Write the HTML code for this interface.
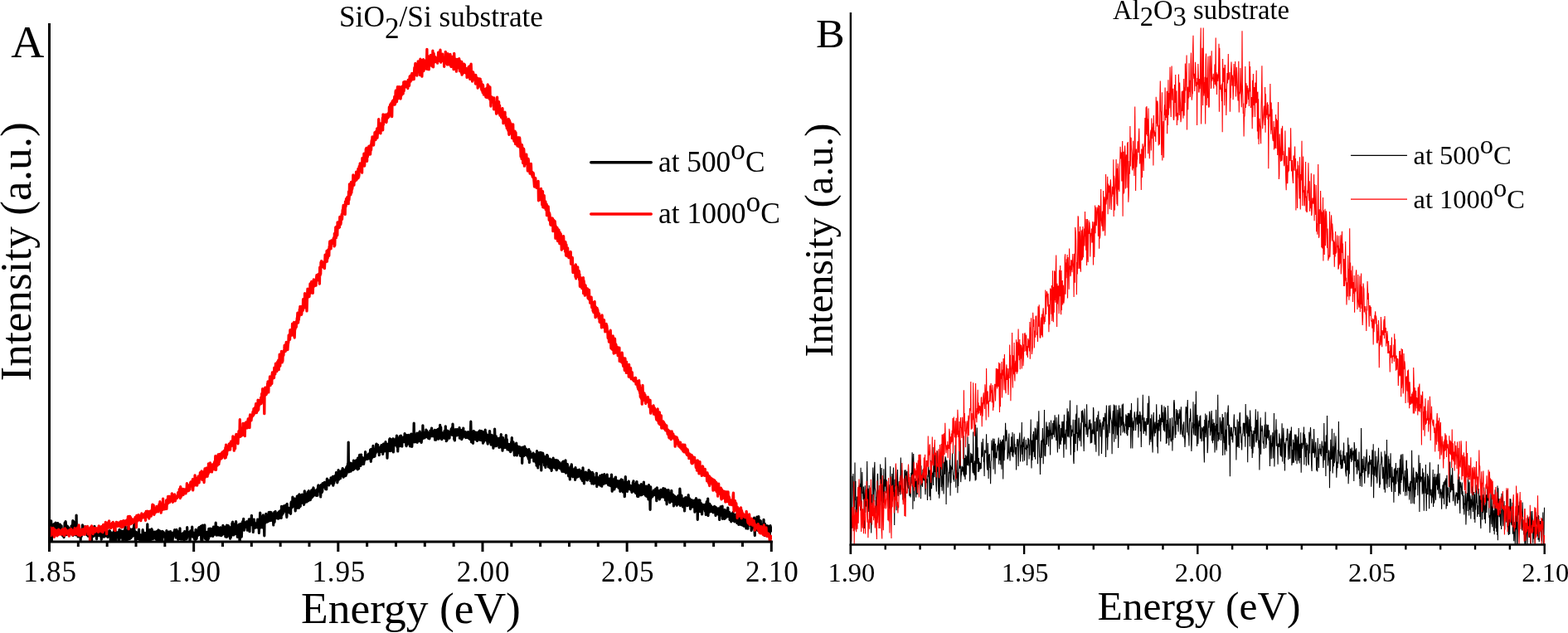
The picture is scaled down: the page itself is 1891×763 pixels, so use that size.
<!DOCTYPE html>
<html><head><meta charset="utf-8"><title>PL spectra</title>
<style>html,body{margin:0;padding:0;background:#fff;width:1891px;height:763px;overflow:hidden}</style>
</head><body>
<svg width="1891" height="763" viewBox="0 0 1891 763" style="position:absolute;left:0;top:0">
<defs>
<clipPath id="cl"><rect x="60" y="0" width="871" height="652"/></clipPath>
<clipPath id="cr"><rect x="1026" y="0" width="837" height="656.5"/></clipPath>
</defs>
<rect width="1891" height="763" fill="#fff"/>
<g font-family="'Liberation Serif','Times New Roman',serif" fill="#000">
<!-- LEFT -->
<polyline points="60,628.5 60.3,629.4 60.7,629.0 61,632.0 61.3,640.9 61.7,627.9 62,638.9 62.3,655.0 62.7,633.4 63,632.0 63.3,637.1 63.7,640.4 64,644.5 64.4,637.7 64.7,642.2 65,633.4 65.4,631.7 65.7,634.0 66,634.6 66.4,634.1 66.7,636.5 67,630.1 67.4,639.3 67.7,635.4 68,633.1 68.4,632.7 68.7,644.7 69,633.2 69.4,632.3 69.7,630.6 70,644.2 70.4,633.8 70.7,641.5 71,642.5 71.4,633.0 71.7,642.3 72.1,635.7 72.4,632.0 72.7,634.4 73.1,639.2 73.4,638.4 73.7,638.7 74.1,633.8 74.4,642.5 74.7,643.5 75.1,645.0 75.4,641.4 75.7,645.3 76.1,646.2 76.4,640.3 76.7,641.1 77.1,647.6 77.4,639.8 77.7,641.2 78.1,630.2 78.4,636.2 78.7,639.7 79.1,628.6 79.4,631.5 79.7,644.6 80.1,633.3 80.4,635.9 80.8,639.5 81.1,635.9 81.4,634.3 81.8,640.3 82.1,636.3 82.4,635.7 82.8,639.0 83.1,645.2 83.4,639.9 83.8,645.4 84.1,641.6 84.4,642.1 84.8,641.0 85.1,637.3 85.4,640.4 85.8,640.0 86.1,633.9 86.4,642.0 86.8,641.3 87.1,640.4 87.4,636.5 87.8,627.6 88.1,645.3 88.5,638.7 88.8,628.5 89.1,641.9 89.5,636.1 89.8,642.2 90.1,638.8 90.5,644.2 90.8,640.3 91.1,641.3 91.5,644.8 91.8,644.8 92.1,621.0 92.5,644.6 92.8,642.6 93.1,637.2 93.5,639.7 93.8,637.8 94.1,647.0 94.5,643.8 94.8,638.2 95.1,643.1 95.5,644.0 95.8,642.7 96.2,646.7 96.5,639.7 96.8,643.1 97.2,650.8 97.5,640.3 97.8,639.6 98.2,646.5 98.5,642.8 98.8,637.7 99.2,639.3 99.5,632.9 99.8,635.9 100.2,636.1 100.5,635.5 100.8,638.6 101.2,643.6 101.5,639.0 101.8,635.0 102.2,641.7 102.5,641.5 102.8,634.8 103.2,641.5 103.5,636.2 103.9,638.2 104.2,637.8 104.5,644.5 104.9,637.4 105.2,639.7 105.5,641.9 105.9,645.5 106.2,646.2 106.5,636.8 106.9,646.3 107.2,642.5 107.5,646.4 107.9,645.8 108.2,639.1 108.5,641.5 108.9,640.2 109.2,643.1 109.5,648.6 109.9,641.8 110.2,638.7 110.5,652.5 110.9,637.3 111.2,641.7 111.6,641.6 111.9,636.3 112.2,645.2 112.6,646.4 112.9,641.5 113.2,642.1 113.6,641.2 113.9,634.3 114.2,643.0 114.6,636.6 114.9,637.9 115.2,643.7 115.6,646.0 115.9,638.4 116.2,647.0 116.6,649.8 116.9,642.9 117.2,641.9 117.6,643.1 117.9,640.6 118.2,638.6 118.6,645.1 118.9,645.5 119.2,640.3 119.6,640.7 119.9,639.8 120.3,639.5 120.6,638.4 120.9,636.1 121.3,646.5 121.6,641.1 121.9,642.9 122.3,650.3 122.6,640.6 122.9,645.2 123.3,636.9 123.6,640.1 123.9,645.8 124.3,641.7 124.6,636.7 124.9,636.3 125.3,647.2 125.6,638.9 125.9,645.8 126.3,644.1 126.6,641.6 126.9,642.7 127.3,646.2 127.6,643.2 128,639.0 128.3,644.5 128.6,641.6 129,642.1 129.3,645.6 129.6,644.6 130,647.5 130.3,642.4 130.6,641.3 131,641.8 131.3,644.9 131.6,639.9 132,641.8 132.3,639.8 132.6,640.1 133,642.7 133.3,653.6 133.6,641.8 134,644.6 134.3,643.9 134.6,642.8 135,643.7 135.3,651.8 135.7,642.5 136,650.4 136.3,646.4 136.7,646.0 137,641.0 137.3,641.8 137.7,639.2 138,648.6 138.3,645.5 138.7,663.0 139,639.5 139.3,645.8 139.7,641.6 140,654.1 140.3,643.5 140.7,645.1 141,645.7 141.3,642.0 141.7,642.3 142,642.3 142.3,647.6 142.7,641.0 143,643.4 143.4,645.4 143.7,653.7 144,638.4 144.4,639.1 144.7,642.4 145,640.1 145.4,648.2 145.7,644.2 146,644.1 146.4,640.0 146.7,646.4 147,642.7 147.4,640.3 147.7,641.6 148,654.2 148.4,641.7 148.7,640.7 149,649.1 149.4,647.4 149.7,643.1 150,650.1 150.4,638.2 150.7,642.4 151.1,634.6 151.4,650.1 151.7,644.6 152.1,655.2 152.4,646.3 152.7,646.4 153.1,639.7 153.4,639.5 153.7,642.4 154.1,648.2 154.4,650.2 154.7,634.5 155.1,648.0 155.4,648.2 155.7,640.6 156.1,646.2 156.4,649.1 156.7,649.3 157.1,637.8 157.4,644.6 157.7,641.1 158.1,648.4 158.4,644.8 158.7,639.3 159.1,644.8 159.4,646.8 159.8,637.9 160.1,638.7 160.4,641.5 160.8,642.7 161.1,642.0 161.4,636.7 161.8,631.3 162.1,644.2 162.4,646.1 162.8,640.6 163.1,645.1 163.4,652.3 163.8,643.5 164.1,642.6 164.4,641.5 164.8,646.5 165.1,649.8 165.4,645.6 165.8,643.0 166.1,646.3 166.4,646.4 166.8,644.1 167.1,649.5 167.5,638.2 167.8,647.7 168.1,644.2 168.5,648.3 168.8,652.8 169.1,645.0 169.5,654.4 169.8,644.8 170.1,650.7 170.5,651.4 170.8,645.6 171.1,647.7 171.5,655.3 171.8,647.3 172.1,638.7 172.5,641.6 172.8,643.0 173.1,646.7 173.5,642.7 173.8,651.0 174.1,643.1 174.5,651.8 174.8,642.4 175.2,650.9 175.5,646.0 175.8,651.2 176.2,653.5 176.5,652.7 176.8,649.7 177.2,642.2 177.5,641.9 177.8,631.9 178.2,651.6 178.5,650.7 178.8,649.7 179.2,640.6 179.5,657.1 179.8,642.6 180.2,649.2 180.5,638.6 180.8,642.9 181.2,650.7 181.5,649.9 181.8,640.9 182.2,645.2 182.5,650.3 182.9,637.7 183.2,648.8 183.5,638.9 183.9,648.2 184.2,644.4 184.5,649.7 184.9,643.3 185.2,644.0 185.5,644.0 185.9,641.4 186.2,644.2 186.5,641.1 186.9,643.0 187.2,648.3 187.5,644.0 187.9,649.9 188.2,648.4 188.5,648.9 188.9,640.5 189.2,647.1 189.5,652.1 189.9,649.2 190.2,650.6 190.6,651.9 190.9,638.9 191.2,647.8 191.6,646.7 191.9,644.5 192.2,639.8 192.6,639.8 192.9,644.7 193.2,653.7 193.6,651.0 193.9,643.6 194.2,640.9 194.6,641.7 194.9,645.1 195.2,642.3 195.6,653.8 195.9,640.3 196.2,645.0 196.6,646.0 196.9,647.2 197.2,641.4 197.6,644.4 197.9,646.2 198.2,646.8 198.6,642.9 198.9,644.1 199.3,646.4 199.6,653.6 199.9,644.6 200.3,648.4 200.6,652.2 200.9,639.5 201.3,651.7 201.6,660.6 201.9,645.8 202.3,649.6 202.6,655.1 202.9,644.9 203.3,646.6 203.6,641.0 203.9,642.7 204.3,645.9 204.6,645.2 204.9,652.5 205.3,650.2 205.6,640.5 205.9,649.4 206.3,644.8 206.6,654.6 207,645.1 207.3,642.3 207.6,642.9 208,652.2 208.3,649.0 208.6,646.1 209,645.2 209.3,644.2 209.6,641.7 210,643.6 210.3,645.4 210.6,638.6 211,639.4 211.3,640.7 211.6,643.6 212,648.1 212.3,639.7 212.6,640.5 213,638.5 213.3,643.4 213.6,640.2 214,641.0 214.3,640.5 214.7,650.3 215,644.8 215.3,642.4 215.7,643.2 216,648.9 216.3,649.3 216.7,646.3 217,636.8 217.3,649.3 217.7,649.7 218,648.4 218.3,647.1 218.7,645.4 219,650.2 219.3,643.8 219.7,649.6 220,643.1 220.3,643.5 220.7,643.2 221,642.7 221.3,643.0 221.7,648.3 222,651.7 222.4,642.0 222.7,640.6 223,650.3 223.4,643.6 223.7,646.2 224,645.6 224.4,648.8 224.7,641.2 225,649.8 225.4,648.3 225.7,635.5 226,644.2 226.4,643.2 226.7,646.5 227,644.6 227.4,641.6 227.7,643.3 228,646.3 228.4,644.9 228.7,644.1 229,654.2 229.4,647.0 229.7,639.9 230.1,645.2 230.4,646.1 230.7,640.4 231.1,645.1 231.4,641.0 231.7,635.1 232.1,646.1 232.4,647.2 232.7,647.2 233.1,643.9 233.4,642.0 233.7,645.5 234.1,646.3 234.4,648.4 234.7,650.2 235.1,647.9 235.4,642.0 235.7,650.6 236.1,638.4 236.4,647.4 236.7,646.8 237.1,649.4 237.4,646.4 237.7,646.1 238.1,641.3 238.4,645.7 238.8,643.2 239.1,643.3 239.4,636.7 239.8,641.0 240.1,635.7 240.4,642.7 240.8,641.1 241.1,644.6 241.4,636.2 241.8,641.7 242.1,642.8 242.4,634.0 242.8,650.8 243.1,645.8 243.4,640.5 243.8,651.7 244.1,649.4 244.4,633.1 244.8,642.3 245.1,640.9 245.4,643.7 245.8,639.4 246.1,642.3 246.5,643.8 246.8,632.8 247.1,643.9 247.5,649.3 247.8,643.8 248.1,648.2 248.5,650.0 248.8,644.5 249.1,644.9 249.5,645.0 249.8,641.4 250.1,661.2 250.5,645.1 250.8,645.5 251.1,647.2 251.5,649.4 251.8,637.3 252.1,638.7 252.5,643.6 252.8,645.2 253.1,637.8 253.5,637.1 253.8,646.2 254.2,645.9 254.5,637.6 254.8,641.5 255.2,640.0 255.5,637.6 255.8,638.8 256.2,640.9 256.5,641.6 256.8,646.5 257.2,636.7 257.5,635.0 257.8,644.6 258.2,638.1 258.5,640.8 258.8,642.2 259.2,636.6 259.5,635.4 259.8,639.0 260.2,630.2 260.5,644.4 260.8,634.1 261.2,645.1 261.5,642.9 261.9,642.5 262.2,643.6 262.5,642.0 262.9,635.5 263.2,644.9 263.5,639.3 263.9,643.3 264.2,640.7 264.5,640.1 264.9,645.1 265.2,645.1 265.5,642.1 265.9,635.9 266.2,637.0 266.5,636.6 266.9,645.7 267.2,643.0 267.5,641.2 267.9,640.2 268.2,637.7 268.5,644.3 268.9,633.3 269.2,637.1 269.5,640.4 269.9,643.3 270.2,640.3 270.6,635.2 270.9,635.1 271.2,644.1 271.6,642.1 271.9,646.8 272.2,638.4 272.6,640.0 272.9,636.3 273.2,647.3 273.6,633.0 273.9,642.8 274.2,647.0 274.6,636.9 274.9,633.8 275.2,635.6 275.6,633.7 275.9,641.2 276.2,637.3 276.6,635.7 276.9,638.3 277.2,640.1 277.6,649.2 277.9,637.7 278.3,647.6 278.6,635.4 278.9,637.2 279.3,645.4 279.6,639.2 279.9,630.7 280.3,635.1 280.6,629.1 280.9,635.9 281.3,638.3 281.6,631.4 281.9,645.0 282.3,643.7 282.6,641.7 282.9,635.0 283.3,638.2 283.6,640.4 283.9,642.1 284.3,643.4 284.6,628.5 284.9,634.7 285.3,632.7 285.6,636.1 286,638.4 286.3,647.3 286.6,636.9 287,643.9 287.3,637.6 287.6,636.9 288,641.3 288.3,632.1 288.6,639.8 289,652.7 289.3,651.4 289.6,634.4 290,632.5 290.3,631.3 290.6,634.6 291,636.3 291.3,647.1 291.6,641.0 292,634.6 292.3,637.3 292.6,628.7 293,632.9 293.3,635.0 293.7,625.3 294,636.0 294.3,639.2 294.7,635.6 295,636.1 295.3,635.1 295.7,629.8 296,635.1 296.3,635.2 296.7,635.1 297,634.9 297.3,635.0 297.7,628.7 298,634.1 298.3,639.1 298.7,638.2 299,633.0 299.3,630.8 299.7,638.1 300,633.7 300.3,625.9 300.7,631.6 301,640.6 301.4,626.0 301.7,633.4 302,629.8 302.4,632.6 302.7,631.0 303,628.9 303.4,621.4 303.7,631.5 304,632.5 304.4,631.6 304.7,627.5 305,629.3 305.4,641.4 305.7,626.9 306,630.2 306.4,626.1 306.7,630.4 307,632.4 307.4,636.4 307.7,632.0 308,631.0 308.4,632.4 308.7,633.2 309,630.5 309.4,630.5 309.7,635.7 310.1,631.5 310.4,629.8 310.7,626.1 311.1,627.7 311.4,636.3 311.7,626.7 312.1,631.8 312.4,642.4 312.7,631.6 313.1,628.5 313.4,625.7 313.7,618.0 314.1,624.7 314.4,624.7 314.7,635.8 315.1,631.4 315.4,622.7 315.7,630.8 316.1,625.3 316.4,635.8 316.7,634.2 317.1,630.6 317.4,620.9 317.8,635.1 318.1,631.2 318.4,632.3 318.8,645.8 319.1,626.0 319.4,630.4 319.8,623.3 320.1,630.2 320.4,627.5 320.8,619.4 321.1,628.5 321.4,626.0 321.8,624.4 322.1,625.6 322.4,629.2 322.8,620.7 323.1,620.9 323.4,628.5 323.8,626.0 324.1,617.6 324.4,625.4 324.8,617.4 325.1,627.6 325.5,625.6 325.8,626.3 326.1,617.4 326.5,620.5 326.8,627.4 327.1,617.5 327.5,625.6 327.8,622.2 328.1,623.6 328.5,619.3 328.8,625.3 329.1,624.2 329.5,626.1 329.8,632.9 330.1,621.2 330.5,622.3 330.8,617.3 331.1,629.2 331.5,620.0 331.8,624.7 332.1,616.3 332.5,620.0 332.8,623.6 333.2,622.9 333.5,619.5 333.8,624.4 334.2,620.9 334.5,624.8 334.8,619.1 335.2,622.8 335.5,617.8 335.8,625.2 336.2,617.0 336.5,619.6 336.8,616.7 337.2,623.4 337.5,619.5 337.8,621.8 338.2,624.2 338.5,615.0 338.8,622.4 339.2,624.4 339.5,610.4 339.8,621.5 340.2,619.8 340.5,618.1 340.9,618.6 341.2,611.6 341.5,618.8 341.9,617.4 342.2,609.9 342.5,615.2 342.9,610.7 343.2,616.1 343.5,611.7 343.9,615.8 344.2,609.0 344.5,612.6 344.9,612.9 345.2,613.6 345.5,619.2 345.9,623.5 346.2,607.4 346.5,617.4 346.9,612.4 347.2,612.1 347.5,611.9 347.9,612.4 348.2,612.4 348.5,616.2 348.9,617.9 349.2,613.8 349.6,612.3 349.9,614.4 350.2,613.5 350.6,619.3 350.9,607.3 351.2,605.2 351.6,609.8 351.9,612.0 352.2,609.5 352.6,611.2 352.9,599.0 353.2,606.5 353.6,606.7 353.9,603.6 354.2,606.5 354.6,607.8 354.9,610.2 355.2,604.4 355.6,601.1 355.9,610.9 356.2,615.9 356.6,608.1 356.9,607.8 357.3,602.9 357.6,607.7 357.9,612.5 358.3,598.1 358.6,610.5 358.9,597.8 359.3,612.2 359.6,609.2 359.9,604.2 360.3,606.5 360.6,612.1 360.9,595.9 361.3,609.7 361.6,607.0 361.9,604.4 362.3,610.3 362.6,597.0 362.9,603.2 363.3,598.5 363.6,606.5 363.9,605.4 364.3,596.1 364.6,603.9 365,603.7 365.3,604.1 365.6,601.7 366,606.5 366.3,603.0 366.6,608.3 367,596.8 367.3,591.8 367.6,605.8 368,594.9 368.3,605.5 368.6,600.1 369,602.8 369.3,598.3 369.6,603.9 370,604.9 370.3,604.2 370.6,601.0 371,593.1 371.3,602.6 371.6,598.7 372,603.6 372.3,591.5 372.7,599.5 373,595.6 373.3,597.1 373.7,600.7 374,600.3 374.3,602.6 374.7,598.3 375,598.5 375.3,597.3 375.7,590.9 376,600.0 376.3,591.8 376.7,592.9 377,596.7 377.3,598.5 377.7,589.1 378,588.0 378.3,590.2 378.7,597.2 379,590.8 379.3,595.4 379.7,591.8 380,592.1 380.4,592.9 380.7,596.5 381,596.6 381.4,597.3 381.7,590.6 382,595.1 382.4,590.0 382.7,590.2 383,597.3 383.4,588.5 383.7,585.7 384,584.9 384.4,592.1 384.7,590.6 385,592.1 385.4,586.0 385.7,589.9 386,588.9 386.4,586.7 386.7,598.9 387,585.1 387.4,584.5 387.7,588.3 388,594.0 388.4,585.8 388.7,592.7 389.1,582.7 389.4,585.1 389.7,585.7 390.1,585.2 390.4,586.3 390.7,585.4 391.1,584.8 391.4,581.3 391.7,587.3 392.1,585.3 392.4,585.9 392.7,589.6 393.1,586.6 393.4,585.3 393.7,589.9 394.1,582.0 394.4,577.2 394.7,581.0 395.1,578.1 395.4,581.9 395.7,581.7 396.1,582.2 396.4,583.4 396.8,584.9 397.1,583.6 397.4,582.2 397.8,580.1 398.1,579.0 398.4,580.7 398.8,581.5 399.1,575.9 399.4,578.4 399.8,582.7 400.1,579.8 400.4,575.9 400.8,580.1 401.1,581.4 401.4,574.3 401.8,585.2 402.1,582.9 402.4,577.4 402.8,582.3 403.1,578.6 403.4,579.9 403.8,573.6 404.1,574.9 404.5,575.7 404.8,576.0 405.1,574.2 405.5,569.6 405.8,571.2 406.1,577.2 406.5,573.6 406.8,581.8 407.1,580.2 407.5,573.6 407.8,575.1 408.1,566.6 408.5,576.6 408.8,578.0 409.1,570.2 409.5,569.9 409.8,570.6 410.1,575.6 410.5,576.6 410.8,568.2 411.1,570.4 411.5,573.8 411.8,572.4 412.2,570.0 412.5,573.1 412.8,567.2 413.2,564.6 413.5,572.8 413.8,573.1 414.2,575.2 414.5,568.5 414.8,566.1 415.2,569.6 415.5,568.7 415.8,569.1 416.2,568.3 416.5,573.7 416.8,569.4 417.2,573.3 417.5,564.9 417.8,563.4 418.2,570.9 418.5,562.2 418.8,562.2 419.2,562.0 419.5,558.9 419.8,568.0 420.2,533.0 420.5,567.9 420.9,568.8 421.2,563.8 421.5,561.1 421.9,566.9 422.2,559.9 422.5,558.1 422.9,560.6 423.2,568.1 423.5,565.1 423.9,562.3 424.2,558.8 424.5,559.0 424.9,564.0 425.2,562.1 425.5,559.0 425.9,566.5 426.2,559.1 426.5,555.0 426.9,560.2 427.2,565.3 427.5,563.6 427.9,564.3 428.2,557.0 428.6,561.9 428.9,560.4 429.2,558.6 429.6,554.8 429.9,564.2 430.2,559.4 430.6,556.5 430.9,561.5 431.2,566.0 431.6,552.0 431.9,558.9 432.2,565.0 432.6,564.9 432.9,553.0 433.2,554.8 433.6,548.4 433.9,556.3 434.2,549.9 434.6,551.6 434.9,561.5 435.2,550.6 435.6,548.0 435.9,555.2 436.3,555.8 436.6,555.7 436.9,559.4 437.3,551.6 437.6,553.8 437.9,556.8 438.3,552.3 438.6,559.5 438.9,557.6 439.3,553.6 439.6,552.5 439.9,553.2 440.3,554.2 440.6,544.6 440.9,547.2 441.3,548.3 441.6,548.5 441.9,549.2 442.3,549.1 442.6,551.7 442.9,553.5 443.3,552.3 443.6,552.0 444,550.2 444.3,548.5 444.6,547.0 445,553.0 445.3,547.7 445.6,550.3 446,547.1 446.3,549.8 446.6,542.2 447,545.3 447.3,556.3 447.6,541.3 448,552.9 448.3,543.0 448.6,547.7 449,551.5 449.3,542.7 449.6,550.8 450,537.3 450.3,545.6 450.6,543.4 451,547.5 451.3,548.8 451.7,550.3 452,549.9 452.3,543.4 452.7,541.1 453,546.4 453.3,542.3 453.7,535.6 454,535.1 454.3,542.1 454.7,541.9 455,543.7 455.3,544.0 455.7,536.4 456,544.1 456.3,541.9 456.7,544.3 457,542.2 457.3,548.6 457.7,543.5 458,539.6 458.3,540.6 458.7,541.7 459,543.7 459.3,544.4 459.7,537.5 460,536.7 460.4,543.9 460.7,540.7 461,545.0 461.4,542.4 461.7,547.3 462,542.8 462.4,535.0 462.7,538.1 463,538.9 463.4,535.3 463.7,539.5 464,542.1 464.4,543.8 464.7,542.6 465,532.7 465.4,543.6 465.7,536.5 466,538.9 466.4,535.0 466.7,542.1 467,552.1 467.4,542.5 467.7,539.7 468.1,537.5 468.4,535.0 468.7,543.4 469.1,539.8 469.4,540.4 469.7,529.9 470.1,528.8 470.4,543.7 470.7,539.6 471.1,529.3 471.4,538.1 471.7,536.6 472.1,532.0 472.4,534.2 472.7,543.2 473.1,532.7 473.4,537.4 473.7,532.0 474.1,528.9 474.4,545.0 474.7,537.7 475.1,532.8 475.4,533.1 475.8,533.3 476.1,530.0 476.4,536.0 476.8,536.6 477.1,532.1 477.4,533.5 477.8,528.3 478.1,534.5 478.4,525.2 478.8,532.8 479.1,539.0 479.4,531.8 479.8,543.9 480.1,528.2 480.4,531.6 480.8,532.4 481.1,536.1 481.4,537.2 481.8,532.8 482.1,525.8 482.4,537.7 482.8,534.4 483.1,534.9 483.5,525.0 483.8,533.3 484.1,530.6 484.5,535.1 484.8,538.1 485.1,527.4 485.5,530.3 485.8,530.8 486.1,527.4 486.5,532.6 486.8,532.4 487.1,526.6 487.5,526.6 487.8,531.0 488.1,522.6 488.5,531.0 488.8,533.2 489.1,533.0 489.5,525.7 489.8,536.6 490.1,537.7 490.5,524.7 490.8,536.2 491.2,534.4 491.5,532.7 491.8,525.9 492.2,533.0 492.5,524.4 492.8,525.0 493.2,532.1 493.5,530.8 493.8,527.5 494.2,536.0 494.5,537.8 494.8,529.6 495.2,525.3 495.5,523.6 495.8,526.0 496.2,523.2 496.5,532.7 496.8,538.5 497.2,530.7 497.5,532.6 497.8,523.5 498.2,527.2 498.5,523.1 498.8,530.1 499.2,510.0 499.5,523.3 499.9,532.9 500.2,527.0 500.5,530.2 500.9,530.6 501.2,532.7 501.5,531.2 501.9,526.9 502.2,528.1 502.5,524.0 502.9,522.2 503.2,533.3 503.5,523.9 503.9,531.7 504.2,522.4 504.5,522.9 504.9,529.5 505.2,524.8 505.5,522.2 505.9,531.7 506.2,520.0 506.5,521.8 506.9,527.6 507.2,530.9 507.6,524.7 507.9,526.4 508.2,533.4 508.6,528.5 508.9,521.9 509.2,524.8 509.6,528.9 509.9,512.9 510.2,519.9 510.6,526.9 510.9,526.1 511.2,526.8 511.6,523.3 511.9,526.1 512.2,528.0 512.6,521.4 512.9,522.0 513.2,526.7 513.6,522.2 513.9,518.2 514.2,522.7 514.6,519.0 514.9,525.8 515.3,526.8 515.6,520.8 515.9,522.8 516.3,524.7 516.6,528.3 516.9,527.3 517.3,524.4 517.6,524.8 517.9,528.8 518.3,526.0 518.6,525.5 518.9,519.1 519.3,524.2 519.6,525.1 519.9,523.7 520.3,519.2 520.6,516.1 520.9,525.7 521.3,525.7 521.6,524.1 521.9,519.6 522.3,521.3 522.6,522.8 523,526.0 523.3,523.4 523.6,519.8 524,521.0 524.3,518.3 524.6,530.2 525,520.1 525.3,528.7 525.6,524.0 526,530.2 526.3,518.7 526.6,525.9 527,519.3 527.3,519.4 527.6,519.9 528,517.5 528.3,519.2 528.6,521.6 529,529.2 529.3,520.9 529.6,516.5 530,525.0 530.3,528.0 530.7,512.3 531,524.3 531.3,516.8 531.7,515.0 532,524.9 532.3,528.1 532.7,529.7 533,522.4 533.3,521.7 533.7,523.1 534,524.7 534.3,526.0 534.7,527.9 535,524.1 535.3,524.9 535.7,523.4 536,519.5 536.3,524.3 536.7,528.5 537,525.6 537.3,513.9 537.7,528.7 538,519.1 538.3,531.7 538.7,531.1 539,525.3 539.4,530.0 539.7,519.2 540,528.0 540.4,519.6 540.7,523.8 541,522.6 541.4,523.2 541.7,522.7 542,528.2 542.4,522.3 542.7,520.4 543,522.6 543.4,524.0 543.7,523.9 544,517.9 544.4,516.8 544.7,520.7 545,518.1 545.4,515.3 545.7,524.4 546,511.1 546.4,520.5 546.7,516.5 547.1,520.4 547.4,521.1 547.7,529.4 548.1,529.8 548.4,530.9 548.7,522.2 549.1,521.7 549.4,525.3 549.7,517.6 550.1,521.5 550.4,518.8 550.7,521.7 551.1,525.0 551.4,517.5 551.7,523.0 552.1,522.7 552.4,522.9 552.7,524.0 553.1,520.4 553.4,521.7 553.7,520.6 554.1,515.7 554.4,528.1 554.8,524.9 555.1,524.9 555.4,519.4 555.8,520.5 556.1,523.3 556.4,518.5 556.8,529.6 557.1,524.4 557.4,520.2 557.8,527.8 558.1,525.4 558.4,522.1 558.8,516.1 559.1,525.0 559.4,526.2 559.8,522.7 560.1,520.6 560.4,523.0 560.8,523.2 561.1,523.2 561.4,520.6 561.8,527.6 562.1,525.5 562.5,521.7 562.8,525.1 563.1,527.4 563.5,524.8 563.8,524.8 564.1,526.7 564.5,520.5 564.8,526.5 565.1,521.0 565.5,524.6 565.8,528.8 566.1,522.0 566.5,528.6 566.8,526.7 567.1,529.6 567.5,518.0 567.8,508.2 568.1,520.4 568.5,532.8 568.8,525.7 569.1,523.5 569.5,524.7 569.8,526.6 570.2,524.1 570.5,534.3 570.8,525.4 571.2,519.6 571.5,519.8 571.8,524.6 572.2,525.1 572.5,528.5 572.8,529.1 573.2,529.5 573.5,521.2 573.8,527.2 574.2,522.8 574.5,526.2 574.8,521.3 575.2,531.1 575.5,531.4 575.8,527.2 576.2,522.0 576.5,530.2 576.8,527.2 577.2,520.5 577.5,528.8 577.8,529.8 578.2,528.2 578.5,519.0 578.9,529.2 579.2,530.4 579.5,524.0 579.9,529.6 580.2,528.7 580.5,530.7 580.9,519.7 581.2,525.6 581.5,528.9 581.9,520.8 582.2,527.5 582.5,534.2 582.9,520.8 583.2,533.0 583.5,531.0 583.9,523.7 584.2,523.7 584.5,523.9 584.9,528.9 585.2,518.1 585.5,530.5 585.9,521.6 586.2,526.4 586.6,526.2 586.9,531.2 587.2,524.0 587.6,524.8 587.9,533.2 588.2,535.1 588.6,528.2 588.9,527.0 589.2,529.6 589.6,528.9 589.9,528.8 590.2,524.7 590.6,519.7 590.9,529.9 591.2,528.8 591.6,533.8 591.9,533.8 592.2,536.1 592.6,527.3 592.9,532.5 593.2,524.4 593.6,530.7 593.9,531.8 594.3,526.8 594.6,529.5 594.9,540.1 595.3,526.6 595.6,534.5 595.9,528.8 596.3,534.1 596.6,517.1 596.9,525.1 597.3,529.7 597.6,537.7 597.9,530.2 598.3,525.9 598.6,537.7 598.9,534.4 599.3,528.0 599.6,531.7 599.9,530.7 600.3,533.8 600.6,533.4 600.9,528.7 601.3,534.4 601.6,534.8 602,539.5 602.3,533.8 602.6,532.3 603,528.1 603.3,530.6 603.6,527.5 604,538.8 604.3,523.6 604.6,535.1 605,535.4 605.3,536.4 605.6,531.9 606,543.1 606.3,532.6 606.6,527.5 607,531.4 607.3,531.2 607.6,539.8 608,534.4 608.3,530.8 608.6,530.9 609,534.3 609.3,533.1 609.6,534.7 610,539.5 610.3,524.7 610.7,532.8 611,536.7 611.3,529.7 611.7,538.7 612,542.0 612.3,536.9 612.7,540.0 613,535.4 613.3,537.1 613.7,538.3 614,537.2 614.3,542.6 614.7,535.7 615,541.6 615.3,536.1 615.7,544.7 616,544.0 616.3,539.8 616.7,532.7 617,534.9 617.3,527.5 617.7,542.1 618,536.7 618.4,535.6 618.7,539.0 619,532.9 619.4,537.1 619.7,539.9 620,543.4 620.4,548.9 620.7,536.3 621,543.7 621.4,537.3 621.7,535.7 622,541.7 622.4,540.1 622.7,534.0 623,540.4 623.4,549.0 623.7,537.7 624,537.9 624.4,546.5 624.7,542.5 625,538.5 625.4,545.2 625.7,539.7 626.1,538.8 626.4,543.9 626.7,538.6 627.1,545.7 627.4,549.3 627.7,540.0 628.1,539.9 628.4,539.9 628.7,543.8 629.1,539.9 629.4,543.7 629.7,558.3 630.1,539.0 630.4,544.7 630.7,548.7 631.1,547.6 631.4,545.1 631.7,549.6 632.1,540.4 632.4,548.8 632.7,538.0 633.1,547.4 633.4,543.7 633.8,543.7 634.1,543.6 634.4,541.2 634.8,547.4 635.1,546.3 635.4,549.2 635.8,542.4 636.1,549.1 636.4,550.4 636.8,542.5 637.1,551.7 637.4,553.1 637.8,541.7 638.1,543.0 638.4,557.4 638.8,548.7 639.1,548.1 639.4,544.4 639.8,550.5 640.1,551.4 640.4,549.7 640.8,549.0 641.1,550.3 641.5,551.2 641.8,547.4 642.1,550.6 642.5,551.3 642.8,547.9 643.1,546.1 643.5,550.4 643.8,556.0 644.1,548.7 644.5,547.7 644.8,551.1 645.1,548.0 645.5,550.4 645.8,550.1 646.1,557.3 646.5,551.9 646.8,547.0 647.1,561.1 647.5,543.7 647.8,552.7 648.1,551.9 648.5,556.0 648.8,563.9 649.1,550.8 649.5,552.6 649.8,559.7 650.2,545.6 650.5,555.5 650.8,553.2 651.2,558.9 651.5,551.3 651.8,553.0 652.2,545.3 652.5,549.9 652.8,567.0 653.2,550.3 653.5,549.8 653.8,557.3 654.2,546.8 654.5,546.1 654.8,546.9 655.2,550.1 655.5,549.3 655.8,552.0 656.2,550.5 656.5,560.8 656.8,550.7 657.2,553.1 657.5,556.4 657.9,563.5 658.2,553.7 658.5,552.3 658.9,558.9 659.2,553.2 659.5,548.5 659.9,548.7 660.2,553.5 660.5,549.7 660.9,560.2 661.2,557.6 661.5,563.0 661.9,555.2 662.2,555.0 662.5,559.4 662.9,559.5 663.2,553.1 663.5,564.2 663.9,558.0 664.2,560.8 664.5,555.3 664.9,562.0 665.2,567.3 665.6,557.3 665.9,554.1 666.2,559.0 666.6,559.1 666.9,561.4 667.2,552.2 667.6,563.3 667.9,560.3 668.2,558.0 668.6,554.3 668.9,560.4 669.2,564.2 669.6,561.8 669.9,561.9 670.2,560.3 670.6,561.4 670.9,554.6 671.2,566.7 671.6,564.9 671.9,559.7 672.2,561.1 672.6,555.2 672.9,557.5 673.3,563.0 673.6,558.5 673.9,556.8 674.3,560.3 674.6,564.3 674.9,557.5 675.3,564.0 675.6,564.6 675.9,564.9 676.3,564.7 676.6,562.9 676.9,561.6 677.3,567.0 677.6,559.2 677.9,568.3 678.3,557.0 678.6,562.4 678.9,564.5 679.3,556.1 679.6,566.0 679.9,568.5 680.3,559.6 680.6,563.4 681,567.7 681.3,567.7 681.6,568.8 682,554.9 682.3,564.1 682.6,570.1 683,559.1 683.3,560.1 683.6,564.9 684,565.1 684.3,559.7 684.6,561.6 685,565.3 685.3,566.5 685.6,573.8 686,570.3 686.3,567.5 686.6,566.6 687,569.9 687.3,578.0 687.6,565.8 688,563.6 688.3,562.4 688.6,567.6 689,562.8 689.3,559.8 689.7,564.6 690,564.7 690.3,572.1 690.7,574.8 691,566.5 691.3,566.6 691.7,573.1 692,568.9 692.3,567.4 692.7,572.6 693,565.4 693.3,572.2 693.7,578.3 694,563.6 694.3,571.7 694.7,568.9 695,575.4 695.3,574.2 695.7,566.7 696,569.7 696.3,566.8 696.7,574.8 697,566.9 697.4,570.2 697.7,574.5 698,568.8 698.4,566.3 698.7,566.1 699,573.4 699.4,570.3 699.7,569.8 700,573.1 700.4,571.1 700.7,576.5 701,569.1 701.4,577.8 701.7,577.5 702,567.2 702.4,579.5 702.7,574.1 703,563.9 703.4,570.3 703.7,574.6 704,577.9 704.4,582.8 704.7,577.9 705.1,574.4 705.4,571.5 705.7,570.0 706.1,570.8 706.4,569.1 706.7,573.6 707.1,578.2 707.4,576.3 707.7,570.0 708.1,577.0 708.4,579.0 708.7,573.9 709.1,573.5 709.4,574.7 709.7,576.7 710.1,566.6 710.4,571.2 710.7,569.5 711.1,575.2 711.4,577.2 711.7,568.7 712.1,579.6 712.4,576.2 712.8,576.7 713.1,576.1 713.4,571.0 713.8,583.0 714.1,576.9 714.4,569.3 714.8,578.7 715.1,580.0 715.4,571.1 715.8,577.0 716.1,583.2 716.4,579.7 716.8,577.4 717.1,577.2 717.4,579.0 717.8,577.3 718.1,575.6 718.4,578.7 718.8,577.5 719.1,583.2 719.4,570.3 719.8,586.4 720.1,575.9 720.5,575.2 720.8,577.8 721.1,582.5 721.5,577.3 721.8,584.0 722.1,583.3 722.5,579.0 722.8,578.2 723.1,578.4 723.5,580.2 723.8,573.4 724.1,585.1 724.5,579.8 724.8,580.7 725.1,577.1 725.5,577.3 725.8,586.2 726.1,572.3 726.5,581.2 726.8,577.1 727.1,573.5 727.5,583.2 727.8,576.8 728.1,583.3 728.5,579.0 728.8,571.7 729.2,580.0 729.5,575.6 729.8,579.5 730.2,579.2 730.5,582.4 730.8,581.0 731.2,579.5 731.5,578.2 731.8,574.8 732.2,572.2 732.5,581.7 732.8,575.9 733.2,579.0 733.5,583.8 733.8,584.7 734.2,584.8 734.5,582.1 734.8,583.3 735.2,583.3 735.5,582.8 735.8,576.9 736.2,583.0 736.5,585.7 736.9,576.9 737.2,582.5 737.5,572.0 737.9,578.0 738.2,592.1 738.5,584.2 738.9,584.8 739.2,587.6 739.5,586.7 739.9,583.5 740.2,582.6 740.5,577.6 740.9,590.0 741.2,583.4 741.5,587.9 741.9,576.8 742.2,575.3 742.5,575.2 742.9,586.7 743.2,582.2 743.5,582.4 743.9,584.7 744.2,584.0 744.6,584.3 744.9,580.9 745.2,579.7 745.6,584.5 745.9,588.1 746.2,581.7 746.6,584.6 746.9,582.8 747.2,586.2 747.6,579.5 747.9,592.3 748.2,591.9 748.6,585.1 748.9,584.2 749.2,577.8 749.6,588.7 749.9,584.3 750.2,585.9 750.6,578.5 750.9,588.2 751.2,592.9 751.6,581.0 751.9,588.8 752.3,589.1 752.6,587.0 752.9,588.7 753.3,598.7 753.6,591.8 753.9,586.8 754.3,574.6 754.6,585.5 754.9,580.7 755.3,581.0 755.6,591.6 755.9,581.9 756.3,585.9 756.6,592.4 756.9,583.6 757.3,584.5 757.6,581.9 757.9,584.9 758.3,580.2 758.6,587.8 758.9,584.1 759.3,588.9 759.6,589.7 759.9,586.8 760.3,587.8 760.6,585.7 761,589.5 761.3,591.2 761.6,589.4 762,593.4 762.3,588.7 762.6,587.8 763,590.1 763.3,581.5 763.6,584.9 764,579.8 764.3,589.3 764.6,592.2 765,583.1 765.3,585.5 765.6,586.2 766,593.5 766.3,590.4 766.6,594.3 767,591.7 767.3,591.9 767.6,581.3 768,580.6 768.3,594.8 768.7,598.4 769,584.5 769.3,585.1 769.7,594.6 770,598.5 770.3,585.2 770.7,587.2 771,594.1 771.3,591.6 771.7,591.7 772,593.8 772.3,589.7 772.7,586.6 773,596.8 773.3,583.6 773.7,594.0 774,588.4 774.3,596.3 774.7,590.2 775,589.8 775.3,595.5 775.7,590.8 776,590.9 776.4,581.1 776.7,593.5 777,590.5 777.4,595.7 777.7,589.7 778,586.7 778.4,597.2 778.7,591.7 779,590.8 779.4,586.2 779.7,598.1 780,596.2 780.4,588.1 780.7,595.6 781,599.2 781.4,597.7 781.7,592.8 782,601.9 782.4,584.5 782.7,586.2 783,596.0 783.4,599.8 783.7,595.2 784.1,614.3 784.4,595.2 784.7,586.9 785.1,600.7 785.4,594.6 785.7,592.7 786.1,597.0 786.4,597.1 786.7,593.0 787.1,598.3 787.4,596.6 787.7,594.3 788.1,594.6 788.4,591.0 788.7,591.4 789.1,591.7 789.4,593.4 789.7,596.7 790.1,595.1 790.4,593.3 790.7,589.4 791.1,592.9 791.4,590.9 791.8,603.7 792.1,594.9 792.4,587.9 792.8,591.8 793.1,599.0 793.4,595.4 793.8,591.3 794.1,592.8 794.4,591.8 794.8,600.5 795.1,600.2 795.4,602.0 795.8,593.4 796.1,594.5 796.4,598.6 796.8,590.4 797.1,592.8 797.4,599.5 797.8,593.0 798.1,592.0 798.4,597.7 798.8,594.6 799.1,593.2 799.4,596.4 799.8,588.7 800.1,599.2 800.5,597.0 800.8,597.8 801.1,597.3 801.5,599.1 801.8,589.2 802.1,596.9 802.5,602.9 802.8,593.8 803.1,599.1 803.5,593.9 803.8,590.8 804.1,607.8 804.5,595.8 804.8,600.0 805.1,592.7 805.5,593.9 805.8,592.9 806.1,590.5 806.5,594.9 806.8,602.0 807.1,594.2 807.5,601.6 807.8,605.9 808.2,599.7 808.5,603.1 808.8,603.9 809.2,596.1 809.5,596.8 809.8,591.4 810.2,597.1 810.5,604.3 810.8,600.6 811.2,598.9 811.5,597.8 811.8,596.3 812.2,598.3 812.5,610.0 812.8,605.9 813.2,601.9 813.5,599.9 813.8,598.2 814.2,605.6 814.5,599.4 814.8,600.0 815.2,600.5 815.5,607.6 815.9,602.8 816.2,609.2 816.5,599.2 816.9,599.2 817.2,603.0 817.5,603.2 817.9,597.7 818.2,600.5 818.5,607.6 818.9,605.3 819.2,601.7 819.5,602.1 819.9,589.1 820.2,593.4 820.5,609.5 820.9,598.1 821.2,599.2 821.5,606.3 821.9,597.2 822.2,603.5 822.5,601.8 822.9,603.9 823.2,603.1 823.6,610.9 823.9,606.7 824.2,610.5 824.6,601.0 824.9,603.6 825.2,605.7 825.6,615.9 825.9,608.3 826.2,603.9 826.6,599.9 826.9,604.6 827.2,599.6 827.6,600.0 827.9,601.8 828.2,602.7 828.6,601.9 828.9,609.6 829.2,604.4 829.6,600.6 829.9,605.1 830.2,596.7 830.6,606.7 830.9,607.8 831.3,608.2 831.6,600.9 831.9,609.8 832.3,609.4 832.6,613.7 832.9,608.6 833.3,606.4 833.6,605.5 833.9,603.7 834.3,602.7 834.6,603.8 834.9,611.1 835.3,606.1 835.6,607.1 835.9,605.2 836.3,609.0 836.6,611.0 836.9,610.6 837.3,603.1 837.6,607.1 837.9,617.2 838.3,609.9 838.6,608.2 838.9,606.2 839.3,602.3 839.6,600.7 840,607.1 840.3,608.7 840.6,605.0 841,608.0 841.3,626.3 841.6,611.1 842,613.7 842.3,602.8 842.6,610.0 843,611.7 843.3,609.9 843.6,604.1 844,602.9 844.3,616.7 844.6,607.2 845,611.0 845.3,607.3 845.6,606.6 846,611.8 846.3,614.0 846.6,619.9 847,609.3 847.3,614.1 847.7,609.8 848,609.7 848.3,608.5 848.7,611.8 849,610.3 849.3,610.1 849.7,609.7 850,611.9 850.3,616.1 850.7,610.8 851,607.8 851.3,620.4 851.7,615.7 852,609.6 852.3,604.6 852.7,616.7 853,608.6 853.3,611.1 853.7,601.0 854,621.6 854.3,616.8 854.7,611.4 855,611.2 855.4,612.0 855.7,607.3 856,607.7 856.4,616.9 856.7,611.4 857,612.8 857.4,609.6 857.7,616.4 858,612.9 858.4,615.6 858.7,616.4 859,611.3 859.4,613.2 859.7,615.7 860,617.8 860.4,615.8 860.7,616.3 861,615.1 861.4,612.6 861.7,610.3 862,613.7 862.4,614.6 862.7,618.0 863.1,621.5 863.4,611.5 863.7,619.0 864.1,618.4 864.4,616.7 864.7,612.9 865.1,616.0 865.4,614.0 865.7,619.5 866.1,616.3 866.4,616.9 866.7,612.9 867.1,621.5 867.4,614.8 867.7,626.4 868.1,612.6 868.4,614.2 868.7,614.9 869.1,610.8 869.4,620.9 869.7,613.8 870.1,613.1 870.4,621.2 870.8,619.2 871.1,610.0 871.4,625.3 871.8,619.7 872.1,617.9 872.4,620.1 872.8,617.2 873.1,623.1 873.4,622.7 873.8,625.4 874.1,614.3 874.4,623.4 874.8,624.6 875.1,620.2 875.4,619.0 875.8,622.5 876.1,617.4 876.4,621.0 876.8,622.9 877.1,615.3 877.4,616.8 877.8,612.2 878.1,617.8 878.4,622.3 878.8,618.5 879.1,622.5 879.5,620.8 879.8,617.6 880.1,626.5 880.5,620.5 880.8,625.3 881.1,623.2 881.5,621.4 881.8,628.8 882.1,620.4 882.5,619.5 882.8,627.5 883.1,623.9 883.5,619.4 883.8,621.1 884.1,617.5 884.5,625.2 884.8,627.7 885.1,625.3 885.5,626.3 885.8,628.8 886.1,624.3 886.5,620.7 886.8,621.1 887.2,625.6 887.5,625.1 887.8,625.2 888.2,619.8 888.5,624.4 888.8,630.5 889.2,625.0 889.5,629.8 889.8,626.3 890.2,624.1 890.5,630.1 890.8,632.4 891.2,628.4 891.5,630.9 891.8,624.3 892.2,621.7 892.5,619.0 892.8,626.5 893.2,632.5 893.5,624.4 893.8,620.9 894.2,627.0 894.5,626.8 894.9,626.7 895.2,622.8 895.5,633.2 895.9,631.6 896.2,626.1 896.5,620.7 896.9,629.3 897.2,634.2 897.5,631.5 897.9,622.4 898.2,630.4 898.5,622.9 898.9,626.5 899.2,626.0 899.5,630.7 899.9,636.9 900.2,626.6 900.5,627.5 900.9,634.0 901.2,622.2 901.5,626.1 901.9,637.2 902.2,629.3 902.6,625.1 902.9,631.4 903.2,633.2 903.6,625.6 903.9,629.2 904.2,627.7 904.6,633.2 904.9,631.5 905.2,628.1 905.6,634.3 905.9,628.8 906.2,639.4 906.6,636.1 906.9,629.9 907.2,632.2 907.6,636.1 907.9,633.5 908.2,627.1 908.6,629.3 908.9,629.4 909.2,630.3 909.6,624.2 909.9,634.4 910.3,645.5 910.6,632.4 910.9,632.4 911.3,631.0 911.6,634.2 911.9,629.5 912.3,630.8 912.6,634.3 912.9,623.0 913.3,629.8 913.6,639.3 913.9,635.9 914.3,633.3 914.6,633.9 914.9,622.7 915.3,636.0 915.6,631.9 915.9,638.6 916.3,635.2 916.6,636.6 916.9,627.7 917.3,627.9 917.6,642.4 917.9,633.3 918.3,632.6 918.6,637.5 919,637.2 919.3,637.5 919.6,642.1 920,636.3 920.3,634.2 920.6,633.3 921,626.4 921.3,634.8 921.6,634.7 922,632.8 922.3,645.5 922.6,631.7 923,633.9 923.3,633.3 923.6,633.9 924,638.8 924.3,634.3 924.6,638.6 925,644.8 925.3,634.9 925.6,633.9 926,634.5 926.3,642.1 926.7,638.6 927,638.6 927.3,635.6 927.7,635.0 928,645.2 928.3,644.4 928.7,633.9 929,633.7 929.3,635.4 929.7,635.6 930,641.5" fill="none" stroke="#000" stroke-width="3.2" stroke-linejoin="round" stroke-miterlimit="2" clip-path="url(#cl)"/>
<polyline points="60,641.9 60.3,645.1 60.7,636.0 61,645.7 61.3,640.9 61.7,638.8 62,638.8 62.3,638.1 62.7,640.5 63,643.4 63.3,642.7 63.7,642.9 64,636.5 64.4,636.8 64.7,645.5 65,643.9 65.4,647.3 65.7,644.6 66,638.4 66.4,644.9 66.7,643.0 67,641.9 67.4,639.1 67.7,641.4 68,641.0 68.4,643.9 68.7,641.7 69,645.8 69.4,639.3 69.7,642.7 70,642.8 70.4,639.1 70.7,638.2 71,644.3 71.4,642.9 71.7,641.0 72.1,642.6 72.4,639.7 72.7,642.2 73.1,639.9 73.4,642.1 73.7,644.3 74.1,640.6 74.4,643.9 74.7,638.7 75.1,640.8 75.4,637.8 75.7,641.3 76.1,641.8 76.4,641.0 76.7,640.9 77.1,645.3 77.4,645.5 77.7,638.2 78.1,644.8 78.4,636.8 78.7,639.6 79.1,641.1 79.4,641.9 79.7,638.7 80.1,639.6 80.4,641.8 80.8,639.7 81.1,639.8 81.4,643.4 81.8,644.2 82.1,641.4 82.4,641.6 82.8,641.5 83.1,640.3 83.4,646.1 83.8,638.7 84.1,643.3 84.4,641.3 84.8,641.1 85.1,642.1 85.4,643.0 85.8,637.6 86.1,640.7 86.4,640.4 86.8,642.0 87.1,639.1 87.4,645.0 87.8,644.0 88.1,643.3 88.5,641.1 88.8,643.4 89.1,644.3 89.5,642.8 89.8,640.6 90.1,636.7 90.5,643.9 90.8,640.3 91.1,639.0 91.5,643.7 91.8,642.2 92.1,637.3 92.5,640.9 92.8,640.5 93.1,643.9 93.5,635.9 93.8,640.1 94.1,640.7 94.5,645.0 94.8,638.1 95.1,632.9 95.5,637.2 95.8,641.7 96.2,643.2 96.5,645.8 96.8,642.0 97.2,638.7 97.5,643.3 97.8,640.8 98.2,640.3 98.5,640.8 98.8,644.3 99.2,638.2 99.5,637.9 99.8,640.5 100.2,640.5 100.5,638.4 100.8,638.1 101.2,641.6 101.5,644.3 101.8,642.5 102.2,642.4 102.5,643.9 102.8,634.9 103.2,636.2 103.5,638.4 103.9,637.0 104.2,637.5 104.5,640.4 104.9,636.6 105.2,638.9 105.5,634.4 105.9,637.4 106.2,643.8 106.5,638.5 106.9,640.9 107.2,641.9 107.5,638.5 107.9,641.5 108.2,640.4 108.5,651.0 108.9,637.9 109.2,635.6 109.5,636.8 109.9,638.0 110.2,641.0 110.5,634.0 110.9,638.3 111.2,638.9 111.6,642.4 111.9,637.7 112.2,643.5 112.6,635.8 112.9,637.5 113.2,641.5 113.6,640.5 113.9,636.6 114.2,638.6 114.6,636.9 114.9,641.2 115.2,640.3 115.6,636.7 115.9,639.8 116.2,637.6 116.6,638.4 116.9,638.7 117.2,636.9 117.6,639.6 117.9,639.7 118.2,639.5 118.6,641.4 118.9,637.4 119.2,633.9 119.6,636.7 119.9,638.6 120.3,638.0 120.6,639.5 120.9,640.1 121.3,637.4 121.6,637.4 121.9,634.8 122.3,640.5 122.6,640.7 122.9,634.4 123.3,636.7 123.6,636.1 123.9,641.7 124.3,639.4 124.6,632.3 124.9,636.7 125.3,633.7 125.6,638.7 125.9,637.8 126.3,638.8 126.6,637.9 126.9,637.2 127.3,629.5 127.6,634.4 128,634.4 128.3,639.0 128.6,643.7 129,633.2 129.3,636.6 129.6,636.3 130,631.8 130.3,630.0 130.6,635.5 131,636.1 131.3,633.9 131.6,627.8 132,635.4 132.3,633.7 132.6,632.8 133,634.3 133.3,631.9 133.6,636.7 134,635.0 134.3,633.3 134.6,635.6 135,634.6 135.3,630.3 135.7,634.1 136,633.1 136.3,629.3 136.7,632.4 137,635.4 137.3,632.3 137.7,638.1 138,638.9 138.3,633.0 138.7,635.4 139,639.5 139.3,632.6 139.7,630.9 140,632.2 140.3,629.3 140.7,629.3 141,633.7 141.3,631.8 141.7,633.6 142,634.2 142.3,630.5 142.7,632.1 143,631.7 143.4,630.5 143.7,629.9 144,633.1 144.4,631.7 144.7,633.0 145,634.9 145.4,634.8 145.7,628.5 146,629.1 146.4,630.8 146.7,631.8 147,635.9 147.4,628.4 147.7,629.8 148,631.7 148.4,634.5 148.7,634.8 149,627.7 149.4,629.9 149.7,628.0 150,632.8 150.4,631.5 150.7,629.0 151.1,628.2 151.4,630.7 151.7,632.7 152.1,627.4 152.4,628.6 152.7,629.7 153.1,627.6 153.4,630.2 153.7,626.1 154.1,628.1 154.4,622.6 154.7,628.9 155.1,637.7 155.4,622.3 155.7,626.5 156.1,630.9 156.4,627.7 156.7,622.3 157.1,631.3 157.4,623.5 157.7,631.7 158.1,625.7 158.4,625.2 158.7,627.3 159.1,627.0 159.4,628.8 159.8,628.3 160.1,626.3 160.4,630.5 160.8,628.6 161.1,627.1 161.4,626.6 161.8,625.8 162.1,625.7 162.4,627.8 162.8,627.1 163.1,623.4 163.4,628.4 163.8,624.5 164.1,626.4 164.4,635.7 164.8,621.5 165.1,623.9 165.4,627.7 165.8,621.5 166.1,627.8 166.4,620.9 166.8,625.2 167.1,620.6 167.5,621.8 167.8,622.4 168.1,621.8 168.5,626.3 168.8,625.7 169.1,625.6 169.5,623.4 169.8,627.7 170.1,625.7 170.5,623.4 170.8,619.0 171.1,624.2 171.5,623.9 171.8,622.1 172.1,623.8 172.5,623.9 172.8,620.4 173.1,622.9 173.5,622.1 173.8,621.8 174.1,619.7 174.5,619.1 174.8,620.8 175.2,624.7 175.5,627.3 175.8,618.8 176.2,616.5 176.5,620.6 176.8,616.9 177.2,618.0 177.5,620.4 177.8,616.1 178.2,620.7 178.5,621.1 178.8,623.2 179.2,624.0 179.5,620.4 179.8,625.0 180.2,616.3 180.5,618.5 180.8,618.0 181.2,618.7 181.5,620.3 181.8,616.0 182.2,622.1 182.5,620.6 182.9,617.6 183.2,617.7 183.5,613.1 183.9,608.2 184.2,615.5 184.5,616.6 184.9,618.0 185.2,609.0 185.5,613.7 185.9,620.4 186.2,617.0 186.5,616.5 186.9,613.4 187.2,616.5 187.5,618.0 187.9,616.2 188.2,612.4 188.5,614.3 188.9,610.5 189.2,612.1 189.5,614.8 189.9,611.0 190.2,611.8 190.6,616.9 190.9,611.6 191.2,614.4 191.6,610.8 191.9,608.0 192.2,611.4 192.6,610.1 192.9,604.7 193.2,607.0 193.6,609.7 193.9,615.1 194.2,618.2 194.6,609.9 194.9,611.8 195.2,610.6 195.6,608.4 195.9,614.6 196.2,613.3 196.6,601.1 196.9,611.7 197.2,610.2 197.6,611.4 197.9,608.3 198.2,610.5 198.6,613.8 198.9,612.9 199.3,612.9 199.6,610.4 199.9,609.8 200.3,609.6 200.6,602.8 200.9,613.4 201.3,606.7 201.6,606.8 201.9,605.9 202.3,606.9 202.6,598.3 202.9,605.6 203.3,600.6 203.6,601.3 203.9,598.3 204.3,598.5 204.6,605.7 204.9,602.0 205.3,603.1 205.6,602.6 205.9,599.2 206.3,600.4 206.6,598.4 207,601.3 207.3,594.9 207.6,596.2 208,604.6 208.3,605.3 208.6,604.9 209,602.5 209.3,597.4 209.6,603.4 210,601.9 210.3,600.9 210.6,595.8 211,600.8 211.3,603.9 211.6,601.5 212,598.1 212.3,600.4 212.6,598.4 213,598.7 213.3,600.7 213.6,598.8 214,597.7 214.3,598.4 214.7,594.2 215,593.4 215.3,598.1 215.7,594.3 216,597.8 216.3,589.7 216.7,599.4 217,594.9 217.3,600.5 217.7,586.6 218,589.0 218.3,598.9 218.7,594.5 219,594.8 219.3,593.9 219.7,593.8 220,594.8 220.3,589.4 220.7,592.0 221,596.6 221.3,592.6 221.7,589.7 222,591.8 222.4,594.7 222.7,590.3 223,590.2 223.4,592.1 223.7,593.1 224,594.9 224.4,589.3 224.7,591.9 225,592.7 225.4,582.6 225.7,589.2 226,590.0 226.4,587.9 226.7,585.0 227,589.6 227.4,591.6 227.7,586.8 228,585.2 228.4,585.9 228.7,584.6 229,590.2 229.4,585.9 229.7,581.8 230.1,581.0 230.4,583.9 230.7,583.6 231.1,585.3 231.4,580.3 231.7,583.4 232.1,585.4 232.4,577.6 232.7,590.9 233.1,584.7 233.4,584.3 233.7,577.8 234.1,578.4 234.4,585.1 234.7,584.4 235.1,572.8 235.4,584.8 235.7,583.0 236.1,582.4 236.4,576.1 236.7,580.6 237.1,577.3 237.4,581.0 237.7,585.1 238.1,580.7 238.4,581.7 238.8,576.9 239.1,574.1 239.4,577.4 239.8,580.7 240.1,581.9 240.4,576.3 240.8,577.1 241.1,574.5 241.4,569.6 241.8,575.6 242.1,576.2 242.4,573.3 242.8,573.8 243.1,567.8 243.4,574.0 243.8,578.3 244.1,573.1 244.4,575.0 244.8,574.1 245.1,569.6 245.4,572.7 245.8,568.8 246.1,581.5 246.5,571.7 246.8,566.9 247.1,565.0 247.5,575.3 247.8,571.9 248.1,570.9 248.5,564.4 248.8,566.8 249.1,564.2 249.5,572.1 249.8,566.0 250.1,574.3 250.5,569.1 250.8,565.8 251.1,571.3 251.5,558.8 251.8,563.0 252.1,564.2 252.5,569.1 252.8,568.8 253.1,568.3 253.5,558.0 253.8,562.1 254.2,559.7 254.5,567.7 254.8,561.4 255.2,564.7 255.5,568.9 255.8,561.7 256.2,564.1 256.5,559.9 256.8,561.1 257.2,560.7 257.5,560.3 257.8,560.2 258.2,558.2 258.5,565.9 258.8,556.5 259.2,559.4 259.5,557.1 259.8,549.7 260.2,561.0 260.5,566.3 260.8,551.8 261.2,553.8 261.5,550.2 261.9,556.7 262.2,561.0 262.5,559.4 262.9,549.9 263.2,548.0 263.5,555.8 263.9,559.6 264.2,553.3 264.5,556.6 264.9,547.4 265.2,550.3 265.5,553.3 265.9,549.8 266.2,550.1 266.5,553.0 266.9,547.9 267.2,546.2 267.5,552.2 267.9,549.9 268.2,545.0 268.5,549.9 268.9,545.9 269.2,549.9 269.5,547.1 269.9,545.7 270.2,543.5 270.6,546.7 270.9,545.4 271.2,552.2 271.6,544.7 271.9,539.5 272.2,551.7 272.6,536.1 272.9,549.3 273.2,539.7 273.6,547.6 273.9,541.4 274.2,543.6 274.6,541.3 274.9,540.4 275.2,542.4 275.6,537.6 275.9,541.4 276.2,535.2 276.6,536.1 276.9,536.5 277.2,537.6 277.6,542.1 277.9,534.0 278.3,533.5 278.6,532.1 278.9,534.4 279.3,537.5 279.6,532.2 279.9,533.5 280.3,532.0 280.6,534.1 280.9,525.8 281.3,535.1 281.6,535.9 281.9,528.9 282.3,543.2 282.6,527.7 282.9,534.5 283.3,532.7 283.6,540.8 283.9,528.6 284.3,525.7 284.6,526.7 284.9,523.3 285.3,528.4 285.6,528.4 286,530.2 286.3,527.8 286.6,524.3 287,534.8 287.3,527.1 287.6,527.6 288,519.6 288.3,520.4 288.6,520.7 289,521.2 289.3,505.7 289.6,526.3 290,520.5 290.3,524.1 290.6,523.3 291,525.6 291.3,521.6 291.6,520.4 292,515.6 292.3,518.5 292.6,524.3 293,510.3 293.3,513.9 293.7,517.2 294,523.5 294.3,510.9 294.7,512.9 295,514.8 295.3,525.7 295.7,509.9 296,512.1 296.3,515.1 296.7,509.0 297,514.1 297.3,512.4 297.7,508.9 298,511.1 298.3,515.9 298.7,509.2 299,506.6 299.3,504.8 299.7,508.1 300,510.8 300.3,506.8 300.7,506.9 301,515.5 301.4,501.7 301.7,499.9 302,504.7 302.4,502.2 302.7,504.8 303,506.9 303.4,502.9 303.7,500.2 304,502.4 304.4,501.8 304.7,499.0 305,496.5 305.4,500.8 305.7,496.9 306,492.6 306.4,499.2 306.7,497.5 307,493.3 307.4,497.4 307.7,491.2 308,493.0 308.4,489.3 308.7,486.6 309,493.2 309.4,497.6 309.7,491.1 310.1,494.9 310.4,494.0 310.7,495.1 311.1,482.1 311.4,485.4 311.7,493.9 312.1,486.6 312.4,486.2 312.7,488.5 313.1,487.5 313.4,482.3 313.7,483.0 314.1,485.8 314.4,483.7 314.7,479.1 315.1,486.6 315.4,484.3 315.7,474.4 316.1,477.4 316.4,482.7 316.7,468.7 317.1,478.2 317.4,474.8 317.8,473.8 318.1,477.9 318.4,476.5 318.8,498.7 319.1,473.2 319.4,474.9 319.8,467.1 320.1,476.2 320.4,469.1 320.8,471.7 321.1,475.5 321.4,474.4 321.8,470.9 322.1,473.4 322.4,465.8 322.8,463.1 323.1,460.0 323.4,467.8 323.8,472.9 324.1,462.9 324.4,463.6 324.8,461.6 325.1,464.2 325.5,454.0 325.8,464.3 326.1,464.5 326.5,456.6 326.8,454.5 327.1,456.8 327.5,459.6 327.8,462.5 328.1,451.8 328.5,448.8 328.8,454.9 329.1,454.8 329.5,455.9 329.8,449.4 330.1,454.6 330.5,455.4 330.8,443.2 331.1,448.1 331.5,451.1 331.8,451.0 332.1,444.8 332.5,438.2 332.8,442.3 333.2,438.8 333.5,441.8 333.8,447.6 334.2,439.8 334.5,442.1 334.8,435.9 335.2,444.1 335.5,436.8 335.8,434.2 336.2,445.7 336.5,438.5 336.8,439.2 337.2,427.1 337.5,440.8 337.8,441.2 338.2,432.6 338.5,431.1 338.8,429.2 339.2,435.4 339.5,423.4 339.8,430.6 340.2,436.9 340.5,428.3 340.9,435.3 341.2,426.2 341.5,424.0 341.9,428.4 342.2,423.4 342.5,423.3 342.9,420.4 343.2,416.1 343.5,419.2 343.9,422.7 344.2,423.5 344.5,417.8 344.9,418.6 345.2,412.5 345.5,415.0 345.9,414.2 346.2,413.5 346.5,413.6 346.9,421.7 347.2,417.0 347.5,414.2 347.9,412.3 348.2,404.0 348.5,405.0 348.9,407.9 349.2,407.4 349.6,409.3 349.9,397.7 350.2,405.3 350.6,404.3 350.9,401.5 351.2,398.7 351.6,402.3 351.9,399.8 352.2,401.8 352.6,390.2 352.9,394.2 353.2,404.0 353.6,397.6 353.9,392.4 354.2,393.6 354.6,388.5 354.9,399.8 355.2,407.0 355.6,395.7 355.9,397.2 356.2,392.4 356.6,395.3 356.9,391.5 357.3,394.2 357.6,387.1 357.9,388.9 358.3,383.2 358.6,382.8 358.9,377.2 359.3,389.2 359.6,388.8 359.9,385.1 360.3,385.5 360.6,381.3 360.9,381.7 361.3,372.9 361.6,377.7 361.9,369.3 362.3,373.6 362.6,374.5 362.9,373.7 363.3,369.6 363.6,379.3 363.9,377.2 364.3,369.8 364.6,374.1 365,368.5 365.3,374.1 365.6,360.7 366,372.0 366.3,367.2 366.6,365.3 367,370.9 367.3,365.7 367.6,353.6 368,369.7 368.3,356.4 368.6,369.6 369,358.3 369.3,357.7 369.6,367.8 370,374.9 370.3,364.9 370.6,354.9 371,348.2 371.3,358.4 371.6,356.7 372,353.3 372.3,353.4 372.7,351.6 373,357.7 373.3,352.9 373.7,351.6 374,342.0 374.3,352.4 374.7,344.0 375,353.2 375.3,349.1 375.7,339.4 376,346.4 376.3,341.8 376.7,349.0 377,347.9 377.3,353.3 377.7,341.0 378,346.1 378.3,336.9 378.7,344.0 379,340.8 379.3,342.2 379.7,340.4 380,344.4 380.4,337.6 380.7,337.6 381,344.2 381.4,336.8 381.7,334.0 382,331.6 382.4,335.1 382.7,334.2 383,336.6 383.4,332.2 383.7,335.5 384,330.4 384.4,338.2 384.7,330.0 385,332.7 385.4,342.1 385.7,322.1 386,332.2 386.4,324.8 386.7,330.3 387,316.1 387.4,317.8 387.7,314.7 388,314.9 388.4,320.6 388.7,321.5 389.1,316.4 389.4,318.6 389.7,316.3 390.1,322.1 390.4,321.3 390.7,318.6 391.1,319.5 391.4,323.7 391.7,318.0 392.1,307.1 392.4,312.5 392.7,311.3 393.1,315.7 393.4,313.3 393.7,314.3 394.1,302.3 394.4,315.2 394.7,307.2 395.1,311.6 395.4,308.5 395.7,301.4 396.1,300.8 396.4,306.6 396.8,308.3 397.1,297.9 397.4,295.9 397.8,290.8 398.1,295.2 398.4,295.2 398.8,296.4 399.1,299.8 399.4,293.7 399.8,289.9 400.1,292.5 400.4,293.0 400.8,293.2 401.1,292.2 401.4,289.8 401.8,292.3 402.1,287.5 402.4,287.7 402.8,286.2 403.1,296.9 403.4,281.3 403.8,295.8 404.1,280.9 404.5,285.8 404.8,273.8 405.1,280.0 405.5,286.4 405.8,273.1 406.1,274.3 406.5,278.3 406.8,283.4 407.1,267.8 407.5,268.0 407.8,274.3 408.1,273.4 408.5,274.6 408.8,269.3 409.1,272.2 409.5,274.0 409.8,261.5 410.1,271.2 410.5,269.0 410.8,270.5 411.1,268.9 411.5,262.3 411.8,261.9 412.2,258.3 412.5,264.5 412.8,259.8 413.2,253.0 413.5,258.0 413.8,250.7 414.2,247.4 414.5,248.9 414.8,253.1 415.2,252.6 415.5,250.6 415.8,252.7 416.2,258.4 416.5,242.8 416.8,249.4 417.2,247.7 417.5,239.7 417.8,242.1 418.2,244.5 418.5,242.8 418.8,237.7 419.2,244.5 419.5,241.0 419.8,242.0 420.2,245.7 420.5,231.0 420.9,241.0 421.2,237.6 421.5,221.9 421.9,233.3 422.2,230.6 422.5,226.1 422.9,234.8 423.2,226.3 423.5,219.3 423.9,232.2 424.2,225.1 424.5,228.3 424.9,226.7 425.2,223.4 425.5,222.2 425.9,210.9 426.2,220.3 426.5,216.0 426.9,223.1 427.2,216.0 427.5,215.8 427.9,218.6 428.2,211.8 428.6,213.1 428.9,213.4 429.2,216.9 429.6,207.1 429.9,217.0 430.2,211.8 430.6,209.3 430.9,212.6 431.2,215.1 431.6,215.0 431.9,203.5 432.2,214.4 432.6,207.2 432.9,212.7 433.2,200.3 433.6,203.9 433.9,203.4 434.2,197.0 434.6,200.3 434.9,206.2 435.2,206.4 435.6,203.5 435.9,200.9 436.3,196.6 436.6,208.1 436.9,190.7 437.3,190.6 437.6,192.0 437.9,196.0 438.3,192.1 438.6,197.4 438.9,185.2 439.3,196.3 439.6,200.2 439.9,195.1 440.3,188.6 440.6,186.4 440.9,194.0 441.3,179.6 441.6,183.3 441.9,178.3 442.3,185.2 442.6,194.3 442.9,182.4 443.3,189.1 443.6,177.8 444,179.7 444.3,178.9 444.6,186.3 445,176.1 445.3,176.4 445.6,179.1 446,186.1 446.3,178.0 446.6,185.9 447,178.4 447.3,174.5 447.6,180.8 448,171.5 448.3,169.2 448.6,173.6 449,164.8 449.3,165.9 449.6,167.1 450,170.7 450.3,175.0 450.6,174.9 451,167.6 451.3,169.1 451.7,165.7 452,159.6 452.3,168.0 452.7,161.7 453,168.5 453.3,161.4 453.7,158.4 454,164.5 454.3,159.4 454.7,155.0 455,166.1 455.3,161.9 455.7,161.2 456,159.4 456.3,155.6 456.7,143.7 457,156.3 457.3,154.3 457.7,158.0 458,148.7 458.3,157.0 458.7,154.2 459,160.8 459.3,149.1 459.7,152.2 460,152.8 460.4,153.9 460.7,156.8 461,152.1 461.4,142.0 461.7,156.8 462,137.9 462.4,150.5 462.7,146.5 463,142.6 463.4,145.2 463.7,144.5 464,138.6 464.4,145.5 464.7,138.2 465,144.1 465.4,144.9 465.7,146.8 466,147.5 466.4,142.2 466.7,141.9 467,137.7 467.4,137.9 467.7,142.2 468.1,141.0 468.4,138.9 468.7,135.8 469.1,140.6 469.4,129.0 469.7,131.4 470.1,134.7 470.4,138.7 470.7,126.1 471.1,126.3 471.4,125.0 471.7,134.3 472.1,134.1 472.4,137.3 472.7,140.5 473.1,122.2 473.4,126.8 473.7,124.4 474.1,121.0 474.4,126.2 474.7,122.7 475.1,125.7 475.4,122.5 475.8,116.4 476.1,126.2 476.4,125.5 476.8,119.9 477.1,110.5 477.4,109.1 477.8,113.4 478.1,121.8 478.4,122.7 478.8,119.1 479.1,116.4 479.4,104.7 479.8,119.0 480.1,113.1 480.4,114.6 480.8,110.6 481.1,104.7 481.4,118.4 481.8,115.9 482.1,107.9 482.4,104.9 482.8,109.1 483.1,119.0 483.5,114.1 483.8,111.1 484.1,115.0 484.5,111.5 484.8,104.4 485.1,112.1 485.5,107.9 485.8,103.5 486.1,113.1 486.5,108.9 486.8,98.8 487.1,109.7 487.5,106.3 487.8,102.9 488.1,101.9 488.5,98.5 488.8,99.4 489.1,104.3 489.5,104.8 489.8,100.2 490.1,102.8 490.5,99.0 490.8,98.7 491.2,102.7 491.5,102.1 491.8,106.5 492.2,96.3 492.5,100.1 492.8,96.9 493.2,98.5 493.5,103.4 493.8,98.5 494.2,92.0 494.5,93.2 494.8,92.1 495.2,98.0 495.5,90.9 495.8,91.3 496.2,92.6 496.5,94.7 496.8,88.3 497.2,92.6 497.5,92.0 497.8,95.8 498.2,92.3 498.5,93.3 498.8,91.6 499.2,95.7 499.5,87.7 499.9,81.4 500.2,90.5 500.5,83.2 500.9,76.5 501.2,90.0 501.5,86.9 501.9,87.7 502.2,88.7 502.5,85.1 502.9,91.2 503.2,85.6 503.5,83.4 503.9,84.7 504.2,73.8 504.5,86.5 504.9,76.0 505.2,85.2 505.5,82.2 505.9,82.9 506.2,78.1 506.5,90.5 506.9,71.2 507.2,80.6 507.6,76.4 507.9,72.5 508.2,87.7 508.6,83.4 508.9,92.2 509.2,83.5 509.6,81.8 509.9,81.8 510.2,72.1 510.6,71.7 510.9,85.5 511.2,82.0 511.6,73.9 511.9,77.9 512.2,78.0 512.6,83.1 512.9,78.4 513.2,72.9 513.6,80.4 513.9,73.3 514.2,78.7 514.6,72.6 514.9,59.3 515.3,83.4 515.6,70.2 515.9,79.8 516.3,82.4 516.6,69.5 516.9,68.2 517.3,83.8 517.6,75.0 517.9,80.2 518.3,75.2 518.6,78.1 518.9,74.3 519.3,66.4 519.6,75.5 519.9,78.7 520.3,66.4 520.6,70.6 520.9,71.7 521.3,77.7 521.6,80.2 521.9,61.2 522.3,73.8 522.6,80.8 523,64.4 523.3,65.8 523.6,75.2 524,72.0 524.3,68.2 524.6,72.0 525,74.6 525.3,71.2 525.6,72.7 526,71.7 526.3,72.7 526.6,71.7 527,72.7 527.3,69.7 527.6,76.2 528,68.9 528.3,67.9 528.6,63.1 529,66.6 529.3,71.2 529.6,69.4 530,73.4 530.3,64.3 530.7,67.1 531,60.2 531.3,68.9 531.7,75.2 532,72.7 532.3,68.3 532.7,73.1 533,71.7 533.3,65.8 533.7,65.2 534,71.5 534.3,72.7 534.7,73.5 535,72.6 535.3,69.3 535.7,80.3 536,69.7 536.3,73.3 536.7,71.8 537,76.3 537.3,62.4 537.7,73.8 538,70.3 538.3,70.9 538.7,66.1 539,67.8 539.4,77.9 539.7,76.2 540,64.6 540.4,73.3 540.7,69.6 541,77.8 541.4,74.7 541.7,76.4 542,72.4 542.4,73.1 542.7,69.6 543,65.4 543.4,70.4 543.7,79.7 544,80.4 544.4,69.3 544.7,73.3 545,70.2 545.4,70.2 545.7,68.4 546,71.0 546.4,78.0 546.7,78.6 547.1,83.7 547.4,74.4 547.7,64.4 548.1,72.7 548.4,70.3 548.7,74.2 549.1,72.4 549.4,81.3 549.7,72.3 550.1,76.8 550.4,86.1 550.7,77.1 551.1,71.5 551.4,82.2 551.7,80.2 552.1,80.8 552.4,81.8 552.7,73.7 553.1,74.4 553.4,79.8 553.7,70.6 554.1,75.2 554.4,85.6 554.8,73.5 555.1,82.0 555.4,85.8 555.8,80.4 556.1,78.7 556.4,87.8 556.8,74.5 557.1,90.1 557.4,77.4 557.8,82.4 558.1,76.9 558.4,77.3 558.8,88.0 559.1,83.6 559.4,86.2 559.8,77.2 560.1,82.3 560.4,78.0 560.8,84.5 561.1,87.2 561.4,87.7 561.8,88.0 562.1,82.4 562.5,88.9 562.8,84.0 563.1,93.4 563.5,85.9 563.8,93.1 564.1,85.5 564.5,91.0 564.8,89.1 565.1,80.7 565.5,91.8 565.8,84.1 566.1,79.9 566.5,90.0 566.8,95.3 567.1,93.6 567.5,85.8 567.8,81.7 568.1,77.1 568.5,87.7 568.8,88.6 569.1,90.7 569.5,98.0 569.8,91.0 570.2,86.8 570.5,86.9 570.8,88.1 571.2,89.8 571.5,95.1 571.8,92.1 572.2,93.7 572.5,94.8 572.8,95.7 573.2,98.2 573.5,101.1 573.8,90.5 574.2,94.3 574.5,95.5 574.8,95.6 575.2,100.8 575.5,100.7 575.8,94.1 576.2,106.1 576.5,103.6 576.8,101.8 577.2,95.6 577.5,102.9 577.8,97.6 578.2,94.8 578.5,100.5 578.9,95.1 579.2,95.1 579.5,103.2 579.9,105.3 580.2,98.1 580.5,106.8 580.9,108.2 581.2,109.1 581.5,104.8 581.9,101.9 582.2,111.6 582.5,102.3 582.9,106.9 583.2,110.6 583.5,114.0 583.9,107.3 584.2,107.9 584.5,109.3 584.9,108.1 585.2,113.1 585.5,113.3 585.9,117.0 586.2,108.5 586.6,112.9 586.9,106.1 587.2,108.1 587.6,117.7 587.9,109.7 588.2,102.0 588.6,109.2 588.9,109.8 589.2,103.7 589.6,114.3 589.9,118.0 590.2,111.7 590.6,119.6 590.9,104.9 591.2,119.5 591.6,116.2 591.9,128.0 592.2,117.3 592.6,117.6 592.9,118.1 593.2,117.0 593.6,117.4 593.9,123.2 594.3,121.6 594.6,122.3 594.9,122.7 595.3,118.5 595.6,131.8 595.9,118.0 596.3,128.1 596.6,123.2 596.9,129.7 597.3,124.0 597.6,131.0 597.9,128.6 598.3,132.5 598.6,137.1 598.9,128.9 599.3,129.1 599.6,117.1 599.9,129.6 600.3,134.4 600.6,129.3 600.9,131.4 601.3,130.9 601.6,122.7 602,137.0 602.3,129.8 602.6,127.2 603,139.2 603.3,136.9 603.6,138.2 604,136.6 604.3,133.3 604.6,141.5 605,133.4 605.3,139.4 605.6,133.8 606,130.7 606.3,143.7 606.6,136.5 607,148.6 607.3,137.5 607.6,147.1 608,141.0 608.3,146.7 608.6,146.9 609,135.2 609.3,147.5 609.6,143.6 610,141.1 610.3,151.3 610.7,148.5 611,149.3 611.3,154.6 611.7,153.3 612,149.4 612.3,145.5 612.7,157.1 613,147.4 613.3,143.3 613.7,160.9 614,162.3 614.3,144.8 614.7,155.1 615,147.0 615.3,157.5 615.7,152.8 616,148.8 616.3,160.7 616.7,152.5 617,159.2 617.3,154.6 617.7,166.7 618,164.2 618.4,157.4 618.7,149.8 619,162.6 619.4,157.9 619.7,167.7 620,170.2 620.4,163.3 620.7,168.2 621,158.1 621.4,167.8 621.7,173.6 622,159.7 622.4,170.5 622.7,168.7 623,170.1 623.4,169.1 623.7,169.1 624,175.9 624.4,170.9 624.7,173.7 625,165.6 625.4,174.7 625.7,176.8 626.1,173.5 626.4,174.6 626.7,166.0 627.1,171.3 627.4,173.5 627.7,176.1 628.1,188.8 628.4,182.8 628.7,174.1 629.1,191.4 629.4,174.6 629.7,176.5 630.1,178.5 630.4,189.0 630.7,196.5 631.1,183.7 631.4,188.3 631.7,179.5 632.1,185.1 632.4,200.2 632.7,195.0 633.1,193.9 633.4,197.6 633.8,193.8 634.1,194.4 634.4,187.5 634.8,186.2 635.1,191.0 635.4,193.4 635.8,191.9 636.1,199.9 636.4,206.0 636.8,198.0 637.1,191.4 637.4,193.7 637.8,205.5 638.1,205.1 638.4,203.2 638.8,205.9 639.1,209.1 639.4,204.7 639.8,206.7 640.1,204.4 640.4,197.4 640.8,208.1 641.1,208.2 641.5,211.1 641.8,207.4 642.1,212.7 642.5,213.4 642.8,210.3 643.1,208.3 643.5,210.6 643.8,216.3 644.1,219.7 644.5,225.0 644.8,216.7 645.1,220.3 645.5,224.5 645.8,214.7 646.1,223.3 646.5,218.9 646.8,220.1 647.1,226.3 647.5,222.4 647.8,225.9 648.1,219.8 648.5,225.6 648.8,222.5 649.1,218.4 649.5,241.8 649.8,229.1 650.2,234.3 650.5,230.9 650.8,232.2 651.2,240.8 651.5,229.6 651.8,240.6 652.2,233.5 652.5,227.4 652.8,236.6 653.2,233.8 653.5,236.7 653.8,246.9 654.2,238.4 654.5,230.7 654.8,249.7 655.2,238.1 655.5,240.7 655.8,250.1 656.2,235.7 656.5,242.1 656.8,248.4 657.2,249.1 657.5,249.6 657.9,243.0 658.2,252.8 658.5,247.0 658.9,250.8 659.2,246.2 659.5,259.7 659.9,250.4 660.2,252.6 660.5,251.1 660.9,256.3 661.2,248.8 661.5,255.5 661.9,255.7 662.2,265.3 662.5,256.7 662.9,258.1 663.2,260.5 663.5,265.5 663.9,271.0 664.2,264.2 664.5,265.3 664.9,271.4 665.2,264.6 665.6,267.1 665.9,263.0 666.2,265.9 666.6,263.6 666.9,278.6 667.2,272.6 667.6,272.9 667.9,265.5 668.2,271.6 668.6,268.4 668.9,269.1 669.2,266.7 669.6,270.8 669.9,287.3 670.2,272.5 670.6,279.4 670.9,281.4 671.2,279.8 671.6,282.0 671.9,274.3 672.2,287.2 672.6,290.6 672.9,281.4 673.3,278.6 673.6,278.7 673.9,277.0 674.3,287.0 674.6,288.8 674.9,293.7 675.3,280.1 675.6,291.0 675.9,291.0 676.3,281.9 676.6,284.9 676.9,291.2 677.3,301.1 677.6,285.2 677.9,289.1 678.3,290.1 678.6,292.7 678.9,299.3 679.3,292.5 679.6,284.7 679.9,290.2 680.3,290.8 680.6,298.8 681,299.0 681.3,293.5 681.6,303.1 682,291.7 682.3,300.1 682.6,307.9 683,295.0 683.3,306.0 683.6,308.7 684,302.4 684.3,306.0 684.6,298.9 685,308.2 685.3,309.2 685.6,305.3 686,310.7 686.3,307.6 686.6,304.9 687,310.5 687.3,310.1 687.6,308.3 688,303.5 688.3,303.8 688.6,318.2 689,311.9 689.3,311.9 689.7,313.9 690,318.7 690.3,310.5 690.7,321.7 691,328.5 691.3,321.8 691.7,320.6 692,323.0 692.3,323.9 692.7,320.8 693,322.4 693.3,322.7 693.7,326.8 694,333.8 694.3,318.9 694.7,335.8 695,323.1 695.3,331.3 695.7,325.2 696,329.8 696.3,329.4 696.7,321.8 697,330.1 697.4,333.7 697.7,333.9 698,326.4 698.4,327.3 698.7,337.4 699,330.6 699.4,345.3 699.7,338.0 700,338.8 700.4,337.1 700.7,335.0 701,340.5 701.4,338.9 701.7,347.5 702,342.0 702.4,343.0 702.7,347.5 703,347.7 703.4,334.6 703.7,353.6 704,338.3 704.4,341.3 704.7,345.2 705.1,343.6 705.4,356.2 705.7,348.7 706.1,344.0 706.4,348.1 706.7,346.9 707.1,348.1 707.4,353.6 707.7,354.9 708.1,352.4 708.4,347.8 708.7,351.6 709.1,359.3 709.4,358.2 709.7,355.0 710.1,360.5 710.4,349.3 710.7,355.2 711.1,359.2 711.4,361.1 711.7,365.1 712.1,361.4 712.4,363.0 712.8,363.0 713.1,358.1 713.4,362.7 713.8,370.6 714.1,368.1 714.4,364.1 714.8,366.2 715.1,374.6 715.4,374.6 715.8,376.5 716.1,374.6 716.4,368.8 716.8,369.2 717.1,363.5 717.4,377.1 717.8,377.5 718.1,382.6 718.4,369.9 718.8,381.7 719.1,377.1 719.4,375.9 719.8,377.1 720.1,371.5 720.5,376.9 720.8,373.5 721.1,376.4 721.5,380.1 721.8,377.7 722.1,383.6 722.5,378.0 722.8,380.7 723.1,388.2 723.5,383.9 723.8,384.8 724.1,388.7 724.5,383.5 724.8,382.6 725.1,387.5 725.5,394.8 725.8,391.4 726.1,379.9 726.5,389.3 726.8,387.7 727.1,389.2 727.5,394.3 727.8,391.5 728.1,391.5 728.5,385.6 728.8,392.7 729.2,390.6 729.5,395.5 729.8,399.8 730.2,395.3 730.5,395.3 730.8,399.6 731.2,390.5 731.5,395.1 731.8,392.5 732.2,396.7 732.5,399.6 732.8,399.2 733.2,407.5 733.5,405.3 733.8,403.3 734.2,408.0 734.5,412.1 734.8,402.8 735.2,404.3 735.5,407.1 735.8,410.9 736.2,398.2 736.5,407.2 736.9,419.7 737.2,408.9 737.5,417.7 737.9,420.7 738.2,414.0 738.5,421.3 738.9,412.1 739.2,405.0 739.5,411.1 739.9,420.1 740.2,426.0 740.5,417.6 740.9,408.6 741.2,416.3 741.5,408.2 741.9,417.8 742.2,425.1 742.5,414.7 742.9,415.5 743.2,417.8 743.5,419.8 743.9,423.6 744.2,423.2 744.6,425.5 744.9,418.6 745.2,428.7 745.6,426.9 745.9,420.9 746.2,423.0 746.6,423.1 746.9,419.1 747.2,435.4 747.6,429.0 747.9,428.6 748.2,433.8 748.6,428.8 748.9,429.4 749.2,436.3 749.6,426.9 749.9,428.1 750.2,425.2 750.6,430.0 750.9,438.1 751.2,431.9 751.6,441.3 751.9,433.1 752.3,436.9 752.6,431.9 752.9,440.2 753.3,446.3 753.6,437.0 753.9,432.0 754.3,439.0 754.6,443.1 754.9,437.0 755.3,449.4 755.6,436.2 755.9,444.8 756.3,449.0 756.6,444.7 756.9,449.5 757.3,446.7 757.6,443.4 757.9,443.8 758.3,454.1 758.6,439.4 758.9,448.5 759.3,444.6 759.6,446.7 759.9,452.8 760.3,446.0 760.6,443.7 761,455.9 761.3,456.8 761.6,452.1 762,448.7 762.3,448.8 762.6,454.5 763,456.0 763.3,456.8 763.6,458.1 764,455.8 764.3,459.0 764.6,456.8 765,459.1 765.3,457.1 765.6,459.9 766,455.3 766.3,458.8 766.6,455.5 767,463.2 767.3,458.9 767.6,459.1 768,459.8 768.3,459.5 768.7,459.6 769,466.5 769.3,466.8 769.7,469.0 770,463.3 770.3,467.4 770.7,458.7 771,471.1 771.3,463.8 771.7,473.8 772,472.0 772.3,478.3 772.7,472.3 773,468.0 773.3,480.3 773.7,477.2 774,477.2 774.3,487.2 774.7,473.4 775,464.5 775.3,473.8 775.7,472.9 776,478.4 776.4,474.7 776.7,479.2 777,473.9 777.4,482.6 777.7,481.1 778,476.1 778.4,485.2 778.7,486.4 779,483.1 779.4,478.8 779.7,483.2 780,482.7 780.4,481.0 780.7,483.0 781,483.2 781.4,478.6 781.7,484.6 782,481.0 782.4,485.7 782.7,485.5 783,490.3 783.4,485.4 783.7,488.5 784.1,482.5 784.4,493.6 784.7,498.2 785.1,489.5 785.4,492.6 785.7,493.8 786.1,490.9 786.4,495.7 786.7,490.4 787.1,492.6 787.4,493.3 787.7,491.6 788.1,488.9 788.4,499.1 788.7,496.0 789.1,493.0 789.4,491.9 789.7,496.5 790.1,493.6 790.4,500.1 790.7,498.7 791.1,500.6 791.4,503.6 791.8,506.0 792.1,502.9 792.4,505.6 792.8,503.5 793.1,492.9 793.4,507.1 793.8,503.9 794.1,505.7 794.4,510.1 794.8,503.5 795.1,506.7 795.4,497.0 795.8,511.7 796.1,506.0 796.4,505.7 796.8,506.2 797.1,510.0 797.4,500.9 797.8,516.0 798.1,509.5 798.4,509.1 798.8,515.5 799.1,513.9 799.4,512.9 799.8,507.8 800.1,516.1 800.5,513.3 800.8,509.5 801.1,512.5 801.5,514.7 801.8,511.2 802.1,517.9 802.5,512.8 802.8,518.9 803.1,517.0 803.5,518.1 803.8,512.9 804.1,517.5 804.5,520.0 804.8,519.4 805.1,523.0 805.5,521.0 805.8,518.1 806.1,519.6 806.5,524.9 806.8,527.1 807.1,527.9 807.5,523.8 807.8,519.8 808.2,521.4 808.5,522.9 808.8,523.8 809.2,529.6 809.5,522.8 809.8,528.0 810.2,520.0 810.5,524.2 810.8,527.8 811.2,527.8 811.5,527.3 811.8,522.8 812.2,527.9 812.5,526.7 812.8,525.8 813.2,529.6 813.5,526.0 813.8,527.1 814.2,538.2 814.5,531.7 814.8,535.4 815.2,529.2 815.5,529.8 815.9,527.0 816.2,527.3 816.5,527.9 816.9,534.9 817.2,530.0 817.5,530.7 817.9,532.0 818.2,537.4 818.5,533.6 818.9,537.8 819.2,538.0 819.5,538.5 819.9,536.6 820.2,539.3 820.5,533.2 820.9,537.3 821.2,538.2 821.5,536.0 821.9,541.2 822.2,539.6 822.5,541.8 822.9,538.0 823.2,541.4 823.6,535.8 823.9,543.9 824.2,536.8 824.6,539.6 824.9,542.8 825.2,544.9 825.6,543.7 825.9,536.2 826.2,539.4 826.6,541.3 826.9,544.3 827.2,540.1 827.6,542.4 827.9,547.2 828.2,546.5 828.6,548.4 828.9,548.3 829.2,542.0 829.6,543.9 829.9,548.3 830.2,549.6 830.6,546.6 830.9,552.6 831.3,546.9 831.6,547.9 831.9,550.2 832.3,551.6 832.6,548.7 832.9,551.0 833.3,548.2 833.6,549.4 833.9,558.0 834.3,548.7 834.6,558.8 834.9,551.5 835.3,558.5 835.6,552.7 835.9,550.9 836.3,554.8 836.6,555.5 836.9,556.8 837.3,552.7 837.6,551.3 837.9,556.2 838.3,555.7 838.6,555.0 838.9,557.8 839.3,563.5 839.6,563.3 840,560.5 840.3,564.6 840.6,567.2 841,565.9 841.3,554.8 841.6,558.7 842,562.9 842.3,565.6 842.6,558.1 843,570.9 843.3,561.0 843.6,560.2 844,556.6 844.3,567.8 844.6,568.5 845,570.8 845.3,566.5 845.6,567.3 846,566.8 846.3,573.3 846.6,569.8 847,571.4 847.3,562.0 847.7,562.5 848,572.8 848.3,571.3 848.7,571.3 849,569.5 849.3,571.3 849.7,569.0 850,573.3 850.3,565.4 850.7,572.1 851,569.9 851.3,569.4 851.7,572.1 852,572.5 852.3,573.2 852.7,579.9 853,570.0 853.3,571.3 853.7,575.2 854,575.4 854.3,577.2 854.7,582.4 855,577.8 855.4,573.9 855.7,585.5 856,578.4 856.4,578.3 856.7,578.7 857,575.9 857.4,576.6 857.7,579.7 858,580.9 858.4,582.2 858.7,577.1 859,583.5 859.4,577.7 859.7,585.6 860,591.2 860.4,578.1 860.7,584.7 861,587.0 861.4,582.0 861.7,589.2 862,579.2 862.4,582.6 862.7,587.2 863.1,591.0 863.4,584.2 863.7,581.3 864.1,588.5 864.4,592.8 864.7,589.3 865.1,585.2 865.4,583.2 865.7,598.2 866.1,589.7 866.4,583.4 866.7,583.3 867.1,594.4 867.4,595.0 867.7,590.5 868.1,589.5 868.4,594.2 868.7,594.9 869.1,593.1 869.4,588.2 869.7,600.1 870.1,601.9 870.4,590.0 870.8,591.4 871.1,591.7 871.4,592.0 871.8,600.5 872.1,598.1 872.4,592.3 872.8,592.2 873.1,596.3 873.4,594.5 873.8,598.5 874.1,598.4 874.4,592.7 874.8,605.0 875.1,596.7 875.4,604.1 875.8,600.0 876.1,594.8 876.4,592.8 876.8,598.3 877.1,604.7 877.4,604.1 877.8,598.6 878.1,593.0 878.4,603.2 878.8,598.2 879.1,602.2 879.5,599.6 879.8,608.0 880.1,602.1 880.5,604.8 880.8,604.1 881.1,602.9 881.5,608.0 881.8,607.1 882.1,607.3 882.5,605.2 882.8,608.5 883.1,603.5 883.5,608.5 883.8,607.1 884.1,598.1 884.5,594.1 884.8,607.5 885.1,616.4 885.5,610.6 885.8,607.9 886.1,614.1 886.5,603.7 886.8,614.9 887.2,610.1 887.5,608.7 887.8,606.7 888.2,611.7 888.5,615.9 888.8,612.8 889.2,624.4 889.5,611.5 889.8,617.9 890.2,617.4 890.5,615.1 890.8,614.3 891.2,615.6 891.5,622.2 891.8,618.6 892.2,615.6 892.5,614.3 892.8,612.7 893.2,616.9 893.5,611.9 893.8,615.4 894.2,624.6 894.5,615.5 894.9,617.3 895.2,622.0 895.5,621.0 895.9,618.9 896.2,621.5 896.5,620.0 896.9,620.9 897.2,620.2 897.5,623.1 897.9,622.3 898.2,622.2 898.5,623.5 898.9,622.9 899.2,621.7 899.5,623.5 899.9,621.8 900.2,616.4 900.5,621.5 900.9,623.2 901.2,624.8 901.5,626.1 901.9,629.4 902.2,630.3 902.6,630.8 902.9,625.5 903.2,629.8 903.6,620.0 903.9,623.5 904.2,632.5 904.6,627.2 904.9,627.6 905.2,629.5 905.6,630.2 905.9,628.1 906.2,629.1 906.6,625.1 906.9,630.8 907.2,632.8 907.6,633.1 907.9,631.2 908.2,629.3 908.6,630.2 908.9,629.1 909.2,627.5 909.6,633.5 909.9,630.3 910.3,639.2 910.6,636.8 910.9,637.3 911.3,632.6 911.6,633.3 911.9,636.6 912.3,636.7 912.6,635.7 912.9,636.5 913.3,632.9 913.6,632.9 913.9,634.2 914.3,631.7 914.6,639.1 914.9,633.3 915.3,633.7 915.6,636.4 915.9,642.0 916.3,638.3 916.6,639.3 916.9,638.3 917.3,642.8 917.6,640.3 917.9,634.6 918.3,635.6 918.6,639.8 919,640.3 919.3,638.3 919.6,641.8 920,644.0 920.3,639.1 920.6,644.7 921,645.0 921.3,632.8 921.6,639.7 922,643.8 922.3,641.7 922.6,642.3 923,644.9 923.3,644.9 923.6,640.9 924,636.0 924.3,643.4 924.6,646.4 925,645.1 925.3,645.0 925.6,646.3 926,645.8 926.3,642.8 926.7,645.6 927,646.7 927.3,643.6 927.7,645.8 928,648.7 928.3,651.3 928.7,648.1 929,651.9 929.3,646.4 929.7,646.4 930,650.6" fill="none" stroke="#f00" stroke-width="3.3" stroke-linejoin="round" stroke-miterlimit="2" clip-path="url(#cl)"/>
<line x1="59.5" y1="28" x2="59.5" y2="665" stroke="#000" stroke-width="3"/>
<line x1="58" y1="653" x2="931.8" y2="653" stroke="#000" stroke-width="2.8"/>
<line x1="59.50" y1="652" x2="59.50" y2="665" stroke="#000" stroke-width="3"/>
<line x1="94.33" y1="652" x2="94.33" y2="659" stroke="#000" stroke-width="3"/>
<line x1="129.16" y1="652" x2="129.16" y2="659" stroke="#000" stroke-width="3"/>
<line x1="164.00" y1="652" x2="164.00" y2="659" stroke="#000" stroke-width="3"/>
<line x1="198.83" y1="652" x2="198.83" y2="659" stroke="#000" stroke-width="3"/>
<line x1="233.66" y1="652" x2="233.66" y2="665" stroke="#000" stroke-width="3"/>
<line x1="268.49" y1="652" x2="268.49" y2="659" stroke="#000" stroke-width="3"/>
<line x1="303.32" y1="652" x2="303.32" y2="659" stroke="#000" stroke-width="3"/>
<line x1="338.16" y1="652" x2="338.16" y2="659" stroke="#000" stroke-width="3"/>
<line x1="372.99" y1="652" x2="372.99" y2="659" stroke="#000" stroke-width="3"/>
<line x1="407.82" y1="652" x2="407.82" y2="665" stroke="#000" stroke-width="3"/>
<line x1="442.65" y1="652" x2="442.65" y2="659" stroke="#000" stroke-width="3"/>
<line x1="477.48" y1="652" x2="477.48" y2="659" stroke="#000" stroke-width="3"/>
<line x1="512.32" y1="652" x2="512.32" y2="659" stroke="#000" stroke-width="3"/>
<line x1="547.15" y1="652" x2="547.15" y2="659" stroke="#000" stroke-width="3"/>
<line x1="581.98" y1="652" x2="581.98" y2="665" stroke="#000" stroke-width="3"/>
<line x1="616.81" y1="652" x2="616.81" y2="659" stroke="#000" stroke-width="3"/>
<line x1="651.64" y1="652" x2="651.64" y2="659" stroke="#000" stroke-width="3"/>
<line x1="686.48" y1="652" x2="686.48" y2="659" stroke="#000" stroke-width="3"/>
<line x1="721.31" y1="652" x2="721.31" y2="659" stroke="#000" stroke-width="3"/>
<line x1="756.14" y1="652" x2="756.14" y2="665" stroke="#000" stroke-width="3"/>
<line x1="790.97" y1="652" x2="790.97" y2="659" stroke="#000" stroke-width="3"/>
<line x1="825.80" y1="652" x2="825.80" y2="659" stroke="#000" stroke-width="3"/>
<line x1="860.64" y1="652" x2="860.64" y2="659" stroke="#000" stroke-width="3"/>
<line x1="895.47" y1="652" x2="895.47" y2="659" stroke="#000" stroke-width="3"/>
<line x1="930.30" y1="652" x2="930.30" y2="665" stroke="#000" stroke-width="3"/>
<text x="13.3" y="68.7" font-size="55.5">A</text>
<text x="409" y="31.7" font-size="36.5" textLength="246" lengthAdjust="spacingAndGlyphs">SiO<tspan dy="14">2</tspan><tspan dy="-14">/Si substrate</tspan></text>
<text x="0" y="0" font-size="53.3" transform="translate(36.9,459.5) rotate(-90)">Intensity (a.u.)</text>
<text x="363" y="751" font-size="53.5">Energy (eV)</text>
<g font-size="35" text-anchor="middle" letter-spacing="0.8">
<text x="60.5" y="700.7">1.85</text><text x="234.7" y="700.7">1.90</text><text x="408.8" y="700.7">1.95</text>
<text x="583" y="700.7">2.00</text><text x="757.2" y="700.7">2.05</text><text x="931.3" y="700.7">2.10</text>
</g>
<line x1="712.7" y1="195.8" x2="785.3" y2="195.8" stroke="#000" stroke-width="3.4" stroke-linecap="round"/>
<line x1="712.7" y1="258" x2="785.3" y2="258" stroke="#f00" stroke-width="3.4" stroke-linecap="round"/>
<text x="794" y="206.8" font-size="35" textLength="128.5" lengthAdjust="spacingAndGlyphs">at 500<tspan dy="-14.4">o</tspan><tspan dy="14.4">C</tspan></text>
<text x="794" y="269" font-size="35" textLength="147" lengthAdjust="spacingAndGlyphs">at 1000<tspan dy="-14.4">o</tspan><tspan dy="14.4">C</tspan></text>
<!-- RIGHT -->
<polyline points="1026,600.9 1026.4,624.4 1026.8,617.5 1027.3,617.0 1027.7,637.0 1028.1,573.7 1028.5,586.6 1028.9,571.0 1029.3,598.1 1029.8,622.7 1030.2,599.8 1030.6,611.3 1031,557.5 1031.4,603.3 1031.9,579.8 1032.3,639.4 1032.7,619.5 1033.1,620.8 1033.5,598.4 1034,613.1 1034.4,614.0 1034.8,591.8 1035.2,588.3 1035.6,596.7 1036,585.8 1036.5,585.9 1036.9,592.7 1037.3,582.8 1037.7,615.6 1038.1,563.7 1038.6,616.6 1039,584.8 1039.4,586.5 1039.8,568.9 1040.2,595.1 1040.6,592.8 1041.1,602.2 1041.5,586.4 1041.9,599.9 1042.3,637.1 1042.7,606.5 1043.2,585.3 1043.6,618.0 1044,594.6 1044.4,610.0 1044.8,610.3 1045.2,588.8 1045.7,556.0 1046.1,589.6 1046.5,608.5 1046.9,588.7 1047.3,605.9 1047.8,617.1 1048.2,585.0 1048.6,622.1 1049,630.1 1049.4,618.6 1049.9,620.3 1050.3,618.7 1050.7,642.5 1051.1,599.6 1051.5,595.7 1051.9,607.9 1052.4,576.9 1052.8,563.6 1053.2,577.3 1053.6,602.7 1054,604.6 1054.5,563.9 1054.9,556.9 1055.3,588.4 1055.7,590.8 1056.1,593.5 1056.5,607.8 1057,618.7 1057.4,598.8 1057.8,606.2 1058.2,572.4 1058.6,570.8 1059.1,598.4 1059.5,606.6 1059.9,607.7 1060.3,605.0 1060.7,608.5 1061.2,608.9 1061.6,559.4 1062,578.9 1062.4,601.6 1062.8,604.2 1063.2,563.9 1063.7,614.8 1064.1,584.2 1064.5,588.0 1064.9,597.4 1065.3,606.2 1065.8,565.2 1066.2,610.3 1066.6,593.2 1067,577.4 1067.4,586.5 1067.8,551.2 1068.3,579.4 1068.7,594.5 1069.1,578.2 1069.5,585.0 1069.9,588.2 1070.4,591.6 1070.8,609.0 1071.2,590.1 1071.6,585.7 1072,599.9 1072.4,627.2 1072.9,584.0 1073.3,599.0 1073.7,562.0 1074.1,613.4 1074.5,601.2 1075,612.8 1075.4,588.3 1075.8,571.1 1076.2,604.5 1076.6,602.0 1077.1,573.9 1077.5,563.4 1077.9,596.3 1078.3,585.6 1078.7,633.0 1079.1,577.8 1079.6,579.2 1080,586.1 1080.4,559.7 1080.8,572.8 1081.2,615.3 1081.7,585.3 1082.1,577.2 1082.5,566.0 1082.9,596.8 1083.3,598.0 1083.7,591.2 1084.2,580.3 1084.6,591.7 1085,592.8 1085.4,575.2 1085.8,596.5 1086.3,551.6 1086.7,565.0 1087.1,581.0 1087.5,584.0 1087.9,566.8 1088.4,590.8 1088.8,602.4 1089.2,592.5 1089.6,588.7 1090,598.3 1090.4,591.3 1090.9,566.5 1091.3,581.4 1091.7,605.0 1092.1,566.3 1092.5,585.2 1093,577.9 1093.4,569.8 1093.8,567.9 1094.2,585.3 1094.6,588.5 1095,588.3 1095.5,560.7 1095.9,578.7 1096.3,588.4 1096.7,597.7 1097.1,593.2 1097.6,595.6 1098,599.5 1098.4,595.1 1098.8,569.7 1099.2,583.0 1099.6,571.0 1100.1,545.2 1100.5,555.9 1100.9,613.7 1101.3,564.3 1101.7,547.0 1102.2,572.2 1102.6,604.3 1103,580.2 1103.4,587.0 1103.8,576.5 1104.3,579.3 1104.7,599.6 1105.1,592.3 1105.5,578.8 1105.9,593.5 1106.3,596.1 1106.8,576.4 1107.2,583.6 1107.6,583.3 1108,569.2 1108.4,596.5 1108.9,576.5 1109.3,569.6 1109.7,553.6 1110.1,559.6 1110.5,601.3 1110.9,561.3 1111.4,584.6 1111.8,572.6 1112.2,585.5 1112.6,586.8 1113,566.0 1113.5,573.1 1113.9,578.8 1114.3,578.9 1114.7,576.6 1115.1,572.3 1115.6,586.1 1116,596.2 1116.4,584.5 1116.8,565.4 1117.2,582.1 1117.6,577.0 1118.1,582.8 1118.5,603.1 1118.9,572.5 1119.3,575.3 1119.7,562.3 1120.2,571.0 1120.6,566.7 1121,598.6 1121.4,579.3 1121.8,566.2 1122.2,603.0 1122.7,554.8 1123.1,586.9 1123.5,589.1 1123.9,582.4 1124.3,570.0 1124.8,571.8 1125.2,568.5 1125.6,584.9 1126,539.0 1126.4,565.6 1126.8,575.2 1127.3,564.3 1127.7,546.0 1128.1,568.9 1128.5,561.3 1128.9,584.0 1129.4,592.6 1129.8,573.0 1130.2,543.4 1130.6,568.8 1131,557.9 1131.5,581.4 1131.9,596.0 1132.3,575.7 1132.7,600.7 1133.1,593.0 1133.5,580.8 1134,557.9 1134.4,573.4 1134.8,550.6 1135.2,586.9 1135.6,573.4 1136.1,591.7 1136.5,575.8 1136.9,543.0 1137.3,580.8 1137.7,584.9 1138.1,595.5 1138.6,556.8 1139,557.4 1139.4,571.7 1139.8,555.1 1140.2,550.3 1140.7,554.2 1141.1,607.9 1141.5,560.5 1141.9,554.7 1142.3,562.7 1142.8,569.0 1143.2,587.7 1143.6,582.5 1144,580.0 1144.4,569.0 1144.8,570.4 1145.3,558.7 1145.7,545.8 1146.1,597.5 1146.5,560.8 1146.9,582.2 1147.4,562.6 1147.8,565.7 1148.2,564.6 1148.6,546.6 1149,565.4 1149.4,572.0 1149.9,578.4 1150.3,573.3 1150.7,580.8 1151.1,570.1 1151.5,565.5 1152,536.6 1152.4,557.4 1152.8,587.8 1153.2,566.7 1153.6,576.4 1154,561.5 1154.5,554.6 1154.9,594.3 1155.3,569.4 1155.7,585.9 1156.1,571.6 1156.6,559.4 1157,530.7 1157.4,564.7 1157.8,540.3 1158.2,530.6 1158.7,581.1 1159.1,573.4 1159.5,572.0 1159.9,563.2 1160.3,561.8 1160.7,568.4 1161.2,564.3 1161.6,562.9 1162,572.6 1162.4,525.5 1162.8,574.5 1163.3,551.9 1163.7,573.6 1164.1,578.1 1164.5,548.3 1164.9,572.1 1165.3,571.7 1165.8,549.6 1166.2,551.9 1166.6,561.0 1167,526.5 1167.4,552.4 1167.9,561.4 1168.3,552.0 1168.7,534.9 1169.1,552.4 1169.5,580.2 1169.9,577.3 1170.4,555.9 1170.8,545.7 1171.2,557.1 1171.6,557.4 1172,547.1 1172.5,552.0 1172.9,565.9 1173.3,570.3 1173.7,520.6 1174.1,570.6 1174.6,558.1 1175,572.8 1175.4,555.5 1175.8,562.1 1176.2,579.6 1176.6,511.7 1177.1,578.6 1177.5,557.8 1177.9,528.1 1178.3,515.6 1178.7,559.2 1179.2,539.3 1179.6,569.0 1180,557.3 1180.4,552.0 1180.8,568.5 1181.2,556.5 1181.7,564.5 1182.1,565.6 1182.5,558.0 1182.9,564.7 1183.3,564.5 1183.8,532.7 1184.2,548.6 1184.6,550.7 1185,546.8 1185.4,528.8 1185.9,543.7 1186.3,556.9 1186.7,554.6 1187.1,574.0 1187.5,542.5 1187.9,544.9 1188.4,542.7 1188.8,546.3 1189.2,542.0 1189.6,523.2 1190,555.6 1190.5,565.0 1190.9,566.7 1191.3,534.1 1191.7,547.1 1192.1,577.0 1192.5,548.1 1193,554.6 1193.4,547.1 1193.8,564.0 1194.2,563.3 1194.6,583.2 1195.1,556.1 1195.5,555.2 1195.9,530.6 1196.3,542.3 1196.7,537.9 1197.1,543.2 1197.6,528.6 1198,565.7 1198.4,532.1 1198.8,551.5 1199.2,528.8 1199.7,552.3 1200.1,571.4 1200.5,534.8 1200.9,552.1 1201.3,545.6 1201.8,550.6 1202.2,552.5 1202.6,536.8 1203,543.4 1203.4,537.2 1203.8,533.6 1204.3,527.5 1204.7,559.7 1205.1,534.4 1205.5,555.0 1205.9,553.2 1206.4,530.1 1206.8,560.2 1207.2,531.9 1207.6,553.7 1208,565.8 1208.4,533.6 1208.9,530.3 1209.3,529.9 1209.7,577.6 1210.1,538.0 1210.5,524.8 1211,555.3 1211.4,540.5 1211.8,542.5 1212.2,528.1 1212.6,509.8 1213.1,531.7 1213.5,526.9 1213.9,518.2 1214.3,526.0 1214.7,527.9 1215.1,553.6 1215.6,552.0 1216,549.0 1216.4,533.4 1216.8,522.5 1217.2,545.4 1217.7,547.7 1218.1,555.5 1218.5,540.2 1218.9,538.5 1219.3,544.9 1219.7,526.5 1220.2,528.1 1220.6,549.4 1221,521.1 1221.4,538.4 1221.8,551.1 1222.3,542.9 1222.7,545.6 1223.1,522.7 1223.5,537.2 1223.9,534.9 1224.3,547.7 1224.8,544.8 1225.2,539.0 1225.6,566.6 1226,546.4 1226.4,534.0 1226.9,529.1 1227.3,537.5 1227.7,529.5 1228.1,562.0 1228.5,546.1 1229,533.0 1229.4,527.8 1229.8,521.5 1230.2,533.1 1230.6,556.5 1231,549.4 1231.5,536.0 1231.9,538.8 1232.3,509.0 1232.7,547.8 1233.1,533.1 1233.6,556.6 1234,533.5 1234.4,528.9 1234.8,539.1 1235.2,526.4 1235.6,555.6 1236.1,539.8 1236.5,540.9 1236.9,540.3 1237.3,530.0 1237.7,542.3 1238.2,537.6 1238.6,561.0 1239,535.7 1239.4,540.3 1239.8,527.9 1240.3,529.1 1240.7,530.0 1241.1,553.6 1241.5,535.6 1241.9,548.8 1242.3,530.4 1242.8,528.8 1243.2,505.6 1243.6,546.3 1244,564.5 1244.4,530.4 1244.9,555.0 1245.3,546.2 1245.7,523.3 1246.1,544.7 1246.5,520.0 1246.9,528.7 1247.4,551.1 1247.8,535.3 1248.2,515.4 1248.6,553.7 1249,516.3 1249.5,530.1 1249.9,527.2 1250.3,529.8 1250.7,519.4 1251.1,507.7 1251.5,559.3 1252,517.7 1252.4,518.4 1252.8,495.3 1253.2,532.6 1253.6,550.3 1254.1,551.8 1254.5,572.0 1254.9,553.1 1255.3,536.8 1255.7,531.1 1256.2,551.9 1256.6,529.9 1257,533.3 1257.4,516.0 1257.8,531.6 1258.2,559.3 1258.7,528.8 1259.1,535.7 1259.5,493.9 1259.9,549.5 1260.3,534.9 1260.8,550.2 1261.2,532.7 1261.6,516.2 1262,508.5 1262.4,536.0 1262.8,527.9 1263.3,513.7 1263.7,527.0 1264.1,518.3 1264.5,538.2 1264.9,521.2 1265.4,508.9 1265.8,525.6 1266.2,518.4 1266.6,548.4 1267,519.4 1267.5,506.5 1267.9,525.0 1268.3,521.8 1268.7,529.4 1269.1,528.4 1269.5,509.7 1270,524.1 1270.4,523.1 1270.8,506.7 1271.2,515.9 1271.6,527.2 1272.1,500.3 1272.5,507.7 1272.9,516.7 1273.3,522.1 1273.7,530.9 1274.1,502.9 1274.6,527.4 1275,532.1 1275.4,545.6 1275.8,516.3 1276.2,508.8 1276.7,499.5 1277.1,530.4 1277.5,541.2 1277.9,511.8 1278.3,528.5 1278.7,534.7 1279.2,536.1 1279.6,516.0 1280,531.6 1280.4,521.3 1280.8,508.0 1281.3,526.0 1281.7,527.5 1282.1,507.8 1282.5,528.8 1282.9,551.8 1283.4,499.8 1283.8,532.5 1284.2,535.6 1284.6,522.7 1285,526.7 1285.4,517.8 1285.9,541.7 1286.3,507.4 1286.7,519.2 1287.1,492.2 1287.5,525.7 1288,526.3 1288.4,495.7 1288.8,507.5 1289.2,527.4 1289.6,512.8 1290,501.9 1290.5,482.5 1290.9,524.8 1291.3,548.4 1291.7,512.5 1292.1,525.7 1292.6,525.3 1293,517.7 1293.4,520.3 1293.8,520.5 1294.2,505.7 1294.7,555.8 1295.1,559.1 1295.5,523.1 1295.9,545.0 1296.3,506.0 1296.7,514.8 1297.2,535.0 1297.6,500.8 1298,498.5 1298.4,523.0 1298.8,488.3 1299.3,543.5 1299.7,528.9 1300.1,521.4 1300.5,527.7 1300.9,504.2 1301.3,503.7 1301.8,530.1 1302.2,531.7 1302.6,519.7 1303,516.8 1303.4,509.5 1303.9,538.3 1304.3,495.2 1304.7,504.5 1305.1,509.2 1305.5,494.4 1305.9,497.3 1306.4,501.7 1306.8,532.1 1307.2,543.9 1307.6,522.1 1308,492.6 1308.5,507.7 1308.9,514.6 1309.3,512.6 1309.7,511.0 1310.1,524.1 1310.6,487.3 1311,507.7 1311.4,519.5 1311.8,526.9 1312.2,520.4 1312.6,516.4 1313.1,514.0 1313.5,506.1 1313.9,517.4 1314.3,513.0 1314.7,505.5 1315.2,533.9 1315.6,533.7 1316,510.3 1316.4,525.1 1316.8,533.7 1317.2,519.8 1317.7,517.6 1318.1,523.1 1318.5,491.0 1318.9,494.3 1319.3,523.4 1319.8,519.6 1320.2,535.9 1320.6,508.0 1321,531.8 1321.4,531.2 1321.9,544.7 1322.3,503.3 1322.7,509.9 1323.1,519.3 1323.5,519.1 1323.9,500.1 1324.4,506.5 1324.8,495.5 1325.2,549.4 1325.6,513.8 1326,514.6 1326.5,505.6 1326.9,515.1 1327.3,526.4 1327.7,509.6 1328.1,514.1 1328.5,546.9 1329,528.2 1329.4,517.9 1329.8,508.0 1330.2,513.9 1330.6,503.1 1331.1,518.2 1331.5,504.0 1331.9,503.1 1332.3,507.7 1332.7,497.7 1333.1,516.5 1333.6,551.1 1334,504.1 1334.4,488.5 1334.8,527.5 1335.2,511.5 1335.7,542.5 1336.1,518.5 1336.5,526.6 1336.9,501.0 1337.3,488.7 1337.8,509.6 1338.2,522.2 1338.6,499.3 1339,488.3 1339.4,503.1 1339.8,505.2 1340.3,506.9 1340.7,511.2 1341.1,547.3 1341.5,511.9 1341.9,504.0 1342.4,495.1 1342.8,523.2 1343.2,487.6 1343.6,532.7 1344,511.0 1344.4,488.6 1344.9,513.7 1345.3,509.2 1345.7,529.2 1346.1,488.4 1346.5,513.8 1347,510.5 1347.4,524.4 1347.8,493.7 1348.2,498.9 1348.6,539.9 1349.1,518.8 1349.5,488.4 1349.9,515.2 1350.3,498.6 1350.7,500.0 1351.1,492.1 1351.6,524.9 1352,502.2 1352.4,513.1 1352.8,511.3 1353.2,487.4 1353.7,499.0 1354.1,521.5 1354.5,486.6 1354.9,513.7 1355.3,508.4 1355.7,519.6 1356.2,520.2 1356.6,522.2 1357,510.8 1357.4,513.7 1357.8,499.4 1358.3,501.8 1358.7,523.3 1359.1,500.9 1359.5,525.1 1359.9,524.8 1360.3,497.9 1360.8,518.2 1361.2,497.7 1361.6,514.9 1362,498.2 1362.4,514.8 1362.9,512.3 1363.3,494.2 1363.7,540.4 1364.1,524.1 1364.5,485.9 1365,515.0 1365.4,503.4 1365.8,540.4 1366.2,508.9 1366.6,515.7 1367,507.1 1367.5,519.2 1367.9,501.8 1368.3,496.4 1368.7,502.4 1369.1,503.5 1369.6,519.1 1370,511.1 1370.4,503.1 1370.8,503.7 1371.2,496.1 1371.6,511.7 1372.1,479.4 1372.5,506.4 1372.9,527.5 1373.3,504.3 1373.7,500.0 1374.2,510.4 1374.6,495.8 1375,498.4 1375.4,520.0 1375.8,500.3 1376.3,539.0 1376.7,517.8 1377.1,508.2 1377.5,500.5 1377.9,505.9 1378.3,475.8 1378.8,513.4 1379.2,523.0 1379.6,518.3 1380,503.3 1380.4,518.9 1380.9,519.2 1381.3,507.7 1381.7,514.9 1382.1,525.2 1382.5,516.5 1382.9,504.0 1383.4,509.9 1383.8,512.0 1384.2,485.7 1384.6,511.7 1385,507.8 1385.5,477.3 1385.9,484.1 1386.3,536.6 1386.7,511.3 1387.1,529.8 1387.5,504.2 1388,532.7 1388.4,518.3 1388.8,499.6 1389.2,514.0 1389.6,533.3 1390.1,545.6 1390.5,517.6 1390.9,503.2 1391.3,497.0 1391.7,520.2 1392.2,526.3 1392.6,512.1 1393,508.5 1393.4,522.3 1393.8,517.4 1394.2,516.1 1394.7,487.3 1395.1,505.3 1395.5,538.5 1395.9,510.0 1396.3,546.6 1396.8,516.1 1397.2,506.1 1397.6,514.6 1398,519.4 1398.4,499.6 1398.8,514.0 1399.3,504.2 1399.7,532.2 1400.1,503.6 1400.5,512.2 1400.9,488.0 1401.4,490.0 1401.8,509.1 1402.2,496.8 1402.6,506.1 1403,514.0 1403.5,518.9 1403.9,489.5 1404.3,507.8 1404.7,520.5 1405.1,500.5 1405.5,491.1 1406,500.3 1406.4,535.0 1406.8,510.9 1407.2,534.0 1407.6,506.1 1408.1,528.5 1408.5,489.1 1408.9,507.0 1409.3,512.1 1409.7,537.1 1410.1,517.9 1410.6,527.6 1411,504.6 1411.4,504.7 1411.8,530.0 1412.2,532.3 1412.7,529.4 1413.1,529.0 1413.5,503.2 1413.9,543.4 1414.3,513.7 1414.7,530.2 1415.2,522.4 1415.6,484.9 1416,482.1 1416.4,487.3 1416.8,510.5 1417.3,528.0 1417.7,507.6 1418.1,524.0 1418.5,492.9 1418.9,502.1 1419.4,498.0 1419.8,511.9 1420.2,494.2 1420.6,510.0 1421,520.4 1421.4,504.6 1421.9,498.2 1422.3,504.8 1422.7,493.3 1423.1,496.2 1423.5,523.7 1424,516.8 1424.4,490.2 1424.8,507.6 1425.2,518.6 1425.6,523.9 1426,521.5 1426.5,526.6 1426.9,511.4 1427.3,511.8 1427.7,508.4 1428.1,528.5 1428.6,525.0 1429,538.9 1429.4,529.0 1429.8,500.1 1430.2,490.2 1430.7,491.4 1431.1,498.9 1431.5,521.6 1431.9,491.4 1432.3,482.0 1432.7,509.7 1433.2,524.5 1433.6,524.1 1434,537.5 1434.4,511.9 1434.8,504.1 1435.3,507.9 1435.7,492.4 1436.1,502.4 1436.5,531.8 1436.9,544.0 1437.3,531.6 1437.8,517.0 1438.2,509.0 1438.6,516.3 1439,484.3 1439.4,521.3 1439.9,524.4 1440.3,510.7 1440.7,513.1 1441.1,487.3 1441.5,524.6 1441.9,524.7 1442.4,471.4 1442.8,504.2 1443.2,518.2 1443.6,538.0 1444,500.1 1444.5,512.5 1444.9,535.2 1445.3,520.3 1445.7,510.0 1446.1,506.7 1446.6,513.9 1447,501.5 1447.4,528.8 1447.8,500.6 1448.2,522.3 1448.6,527.9 1449.1,532.2 1449.5,516.1 1449.9,514.8 1450.3,519.8 1450.7,516.4 1451.2,531.7 1451.6,513.8 1452,544.4 1452.4,557.5 1452.8,505.9 1453.2,521.8 1453.7,498.4 1454.1,527.1 1454.5,522.1 1454.9,512.6 1455.3,500.2 1455.8,516.3 1456.2,546.1 1456.6,540.1 1457,521.8 1457.4,506.8 1457.8,515.7 1458.3,504.1 1458.7,495.8 1459.1,501.9 1459.5,525.3 1459.9,520.8 1460.4,518.9 1460.8,499.7 1461.2,495.1 1461.6,531.5 1462,510.9 1462.5,534.2 1462.9,505.2 1463.3,531.1 1463.7,520.2 1464.1,510.1 1464.5,510.2 1465,545.5 1465.4,530.7 1465.8,512.9 1466.2,519.4 1466.6,493.7 1467.1,542.8 1467.5,538.0 1467.9,511.0 1468.3,524.1 1468.7,475.8 1469.1,531.9 1469.6,524.4 1470,521.4 1470.4,529.9 1470.8,522.0 1471.2,502.9 1471.7,507.1 1472.1,514.8 1472.5,531.0 1472.9,517.9 1473.3,507.5 1473.8,523.0 1474.2,499.1 1474.6,548.9 1475,522.3 1475.4,503.0 1475.8,520.3 1476.3,534.1 1476.7,526.1 1477.1,548.6 1477.5,496.8 1477.9,542.1 1478.4,517.8 1478.8,531.5 1479.2,544.1 1479.6,500.5 1480,497.3 1480.4,512.8 1480.9,493.7 1481.3,488.5 1481.7,520.1 1482.1,536.4 1482.5,511.8 1483,526.6 1483.4,574.3 1483.8,524.3 1484.2,514.7 1484.6,517.0 1485,525.9 1485.5,515.3 1485.9,530.0 1486.3,523.0 1486.7,533.6 1487.1,522.2 1487.6,518.8 1488,506.1 1488.4,499.4 1488.8,516.0 1489.2,514.5 1489.7,524.6 1490.1,519.3 1490.5,514.7 1490.9,554.5 1491.3,525.5 1491.7,539.0 1492.2,505.5 1492.6,536.1 1493,538.6 1493.4,527.9 1493.8,507.9 1494.3,540.1 1494.7,510.5 1495.1,498.1 1495.5,497.2 1495.9,522.5 1496.3,514.3 1496.8,533.8 1497.2,531.8 1497.6,542.4 1498,527.0 1498.4,523.7 1498.9,522.2 1499.3,510.4 1499.7,509.8 1500.1,511.4 1500.5,525.9 1501,509.8 1501.4,521.2 1501.8,538.8 1502.2,486.9 1502.6,509.6 1503,507.9 1503.5,522.6 1503.9,500.5 1504.3,512.8 1504.7,557.2 1505.1,502.5 1505.6,521.7 1506,526.2 1506.4,518.7 1506.8,505.2 1507.2,538.2 1507.6,494.6 1508.1,508.8 1508.5,519.9 1508.9,513.9 1509.3,540.9 1509.7,518.7 1510.2,551.9 1510.6,523.2 1511,546.5 1511.4,529.7 1511.8,519.7 1512.2,519.2 1512.7,538.8 1513.1,515.4 1513.5,523.1 1513.9,511.8 1514.3,493.2 1514.8,531.9 1515.2,533.4 1515.6,505.9 1516,531.1 1516.4,520.5 1516.9,495.8 1517.3,510.3 1517.7,534.4 1518.1,540.1 1518.5,530.6 1518.9,566.6 1519.4,530.2 1519.8,513.9 1520.2,503.2 1520.6,547.7 1521,518.4 1521.5,520.0 1521.9,513.5 1522.3,513.7 1522.7,520.6 1523.1,533.1 1523.5,534.5 1524,531.8 1524.4,540.9 1524.8,519.6 1525.2,511.7 1525.6,526.4 1526.1,496.5 1526.5,540.2 1526.9,535.3 1527.3,535.7 1527.7,511.6 1528.2,520.6 1528.6,528.4 1529,513.0 1529.4,512.0 1529.8,525.2 1530.2,530.7 1530.7,518.6 1531.1,544.1 1531.5,561.9 1531.9,537.5 1532.3,526.3 1532.8,524.3 1533.2,553.3 1533.6,533.9 1534,538.5 1534.4,532.9 1534.8,521.2 1535.3,552.4 1535.7,526.3 1536.1,532.2 1536.5,498.0 1536.9,562.5 1537.4,541.5 1537.8,528.9 1538.2,518.6 1538.6,521.4 1539,505.2 1539.4,537.7 1539.9,517.8 1540.3,537.3 1540.7,537.8 1541.1,559.8 1541.5,534.5 1542,535.8 1542.4,539.0 1542.8,522.4 1543.2,528.2 1543.6,536.8 1544.1,549.4 1544.5,543.4 1544.9,528.5 1545.3,550.8 1545.7,527.2 1546.1,510.2 1546.6,556.4 1547,533.6 1547.4,526.6 1547.8,515.7 1548.2,527.3 1548.7,559.1 1549.1,533.3 1549.5,567.4 1549.9,534.9 1550.3,551.5 1550.7,535.3 1551.2,528.1 1551.6,528.7 1552,531.2 1552.4,517.3 1552.8,517.0 1553.3,540.9 1553.7,554.2 1554.1,538.2 1554.5,536.7 1554.9,522.5 1555.4,553.1 1555.8,552.0 1556.2,519.2 1556.6,537.6 1557,531.7 1557.4,514.6 1557.9,560.9 1558.3,554.7 1558.7,541.9 1559.1,558.3 1559.5,529.8 1560,541.7 1560.4,557.7 1560.8,533.4 1561.2,542.4 1561.6,523.6 1562,547.7 1562.5,555.4 1562.9,523.7 1563.3,526.6 1563.7,537.3 1564.1,559.2 1564.6,530.9 1565,526.2 1565.4,537.0 1565.8,555.6 1566.2,516.1 1566.6,536.3 1567.1,558.4 1567.5,538.5 1567.9,534.9 1568.3,551.9 1568.7,521.3 1569.2,569.8 1569.6,546.5 1570,533.8 1570.4,540.8 1570.8,538.6 1571.3,535.4 1571.7,521.6 1572.1,536.1 1572.5,514.4 1572.9,560.3 1573.3,523.3 1573.8,529.2 1574.2,528.3 1574.6,550.9 1575,537.3 1575.4,561.6 1575.9,533.7 1576.3,542.8 1576.7,539.7 1577.1,535.8 1577.5,557.5 1577.9,559.2 1578.4,560.6 1578.8,520.8 1579.2,546.5 1579.6,524.9 1580,524.6 1580.5,515.1 1580.9,527.9 1581.3,550.8 1581.7,562.7 1582.1,567.9 1582.6,528.9 1583,533.2 1583.4,546.0 1583.8,544.9 1584.2,546.0 1584.6,517.0 1585.1,540.2 1585.5,551.7 1585.9,547.2 1586.3,541.6 1586.7,532.8 1587.2,542.2 1587.6,567.3 1588,551.3 1588.4,559.5 1588.8,568.6 1589.2,528.1 1589.7,554.2 1590.1,551.2 1590.5,564.1 1590.9,541.0 1591.3,541.5 1591.8,535.1 1592.2,547.5 1592.6,540.8 1593,542.8 1593.4,550.0 1593.8,539.6 1594.3,531.6 1594.7,539.4 1595.1,537.4 1595.5,551.9 1595.9,564.1 1596.4,540.8 1596.8,509.9 1597.2,554.7 1597.6,545.3 1598,532.4 1598.5,542.7 1598.9,573.9 1599.3,524.6 1599.7,529.6 1600.1,545.9 1600.5,501.1 1601,540.3 1601.4,561.5 1601.8,555.3 1602.2,552.9 1602.6,542.6 1603.1,545.3 1603.5,588.2 1603.9,551.4 1604.3,567.9 1604.7,529.7 1605.1,551.9 1605.6,553.8 1606,550.8 1606.4,516.7 1606.8,542.6 1607.2,570.4 1607.7,557.2 1608.1,537.7 1608.5,562.2 1608.9,521.8 1609.3,558.1 1609.8,554.8 1610.2,540.8 1610.6,534.9 1611,525.6 1611.4,546.9 1611.8,575.8 1612.3,563.1 1612.7,556.6 1613.1,564.2 1613.5,542.1 1613.9,558.7 1614.4,508.1 1614.8,543.9 1615.2,544.1 1615.6,550.3 1616,548.9 1616.4,560.2 1616.9,542.5 1617.3,565.3 1617.7,548.2 1618.1,564.8 1618.5,553.8 1619,564.6 1619.4,559.0 1619.8,543.5 1620.2,555.2 1620.6,533.4 1621,553.4 1621.5,558.4 1621.9,548.9 1622.3,550.6 1622.7,567.6 1623.1,571.0 1623.6,574.3 1624,545.2 1624.4,547.4 1624.8,565.4 1625.2,567.0 1625.7,527.4 1626.1,583.2 1626.5,571.3 1626.9,536.2 1627.3,571.6 1627.7,548.7 1628.2,553.2 1628.6,540.7 1629,543.3 1629.4,549.8 1629.8,556.9 1630.3,539.5 1630.7,554.9 1631.1,545.7 1631.5,548.4 1631.9,543.3 1632.3,547.3 1632.8,580.0 1633.2,533.0 1633.6,537.6 1634,555.9 1634.4,549.8 1634.9,541.8 1635.3,563.3 1635.7,540.3 1636.1,557.5 1636.5,571.6 1637,566.1 1637.4,553.7 1637.8,558.1 1638.2,560.7 1638.6,567.1 1639,544.5 1639.5,577.1 1639.9,569.7 1640.3,586.1 1640.7,571.3 1641.1,574.1 1641.6,516.0 1642,552.9 1642.4,586.7 1642.8,565.2 1643.2,553.1 1643.6,570.0 1644.1,561.3 1644.5,566.0 1644.9,549.7 1645.3,568.1 1645.7,582.7 1646.2,564.2 1646.6,567.3 1647,550.7 1647.4,568.1 1647.8,555.2 1648.2,541.4 1648.7,555.3 1649.1,558.1 1649.5,569.8 1649.9,575.7 1650.3,559.0 1650.8,556.7 1651.2,571.5 1651.6,549.0 1652,557.5 1652.4,559.0 1652.9,560.2 1653.3,554.0 1653.7,586.7 1654.1,577.1 1654.5,560.7 1654.9,542.3 1655.4,556.0 1655.8,572.2 1656.2,535.2 1656.6,600.2 1657,562.8 1657.5,563.4 1657.9,573.5 1658.3,543.5 1658.7,565.5 1659.1,564.6 1659.5,575.2 1660,550.1 1660.4,574.2 1660.8,582.6 1661.2,569.7 1661.6,557.5 1662.1,553.2 1662.5,539.8 1662.9,557.5 1663.3,573.4 1663.7,588.1 1664.2,581.4 1664.6,584.0 1665,559.6 1665.4,560.4 1665.8,544.4 1666.2,557.1 1666.7,550.5 1667.1,563.6 1667.5,577.2 1667.9,565.8 1668.3,562.8 1668.8,577.8 1669.2,590.0 1669.6,583.8 1670,543.4 1670.4,593.8 1670.8,562.0 1671.3,547.5 1671.7,563.5 1672.1,583.5 1672.5,530.1 1672.9,588.3 1673.4,572.5 1673.8,577.6 1674.2,549.5 1674.6,561.6 1675,553.2 1675.4,587.1 1675.9,558.7 1676.3,575.7 1676.7,560.7 1677.1,546.2 1677.5,583.5 1678,588.1 1678.4,592.9 1678.8,562.8 1679.2,571.8 1679.6,581.4 1680.1,576.2 1680.5,574.6 1680.9,605.7 1681.3,565.6 1681.7,584.8 1682.1,564.2 1682.6,592.9 1683,568.5 1683.4,558.0 1683.8,583.5 1684.2,573.4 1684.7,567.2 1685.1,569.7 1685.5,564.0 1685.9,580.8 1686.3,578.2 1686.7,597.8 1687.2,563.7 1687.6,594.6 1688,582.0 1688.4,553.4 1688.8,596.1 1689.3,548.4 1689.7,581.9 1690.1,547.4 1690.5,578.7 1690.9,569.5 1691.4,571.1 1691.8,547.2 1692.2,564.2 1692.6,592.8 1693,584.9 1693.4,575.0 1693.9,574.3 1694.3,566.9 1694.7,597.7 1695.1,576.3 1695.5,592.8 1696,555.4 1696.4,554.7 1696.8,597.4 1697.2,564.8 1697.6,575.0 1698,585.0 1698.5,591.7 1698.9,587.7 1699.3,586.7 1699.7,602.5 1700.1,582.6 1700.6,592.3 1701,579.8 1701.4,581.7 1701.8,607.2 1702.2,575.8 1702.6,542.7 1703.1,580.9 1703.5,582.7 1703.9,606.8 1704.3,574.7 1704.7,563.4 1705.2,582.2 1705.6,607.5 1706,575.5 1706.4,599.2 1706.8,588.1 1707.3,590.3 1707.7,568.6 1708.1,582.0 1708.5,569.1 1708.9,581.1 1709.3,570.8 1709.8,597.3 1710.2,573.4 1710.6,577.8 1711,548.6 1711.4,566.9 1711.9,617.1 1712.3,575.7 1712.7,557.9 1713.1,581.3 1713.5,578.2 1713.9,574.3 1714.4,577.5 1714.8,575.0 1715.2,595.7 1715.6,564.6 1716,585.4 1716.5,594.7 1716.9,569.5 1717.3,615.8 1717.7,583.6 1718.1,581.5 1718.6,574.9 1719,594.7 1719.4,560.0 1719.8,591.9 1720.2,615.9 1720.6,588.8 1721.1,596.3 1721.5,570.9 1721.9,595.9 1722.3,573.4 1722.7,578.4 1723.2,585.1 1723.6,613.2 1724,576.8 1724.4,557.2 1724.8,587.6 1725.2,597.3 1725.7,595.8 1726.1,589.7 1726.5,606.6 1726.9,599.7 1727.3,599.2 1727.8,580.9 1728.2,565.9 1728.6,611.1 1729,574.9 1729.4,606.6 1729.8,605.2 1730.3,571.1 1730.7,578.9 1731.1,594.6 1731.5,602.8 1731.9,574.8 1732.4,584.6 1732.8,574.0 1733.2,571.4 1733.6,590.6 1734,582.4 1734.5,559.8 1734.9,595.4 1735.3,584.0 1735.7,583.9 1736.1,570.4 1736.5,600.4 1737,594.5 1737.4,594.6 1737.8,589.3 1738.2,595.6 1738.6,613.7 1739.1,593.3 1739.5,594.3 1739.9,584.4 1740.3,600.7 1740.7,587.8 1741.1,580.8 1741.6,608.1 1742,589.3 1742.4,579.2 1742.8,581.6 1743.2,584.5 1743.7,576.5 1744.1,613.4 1744.5,601.1 1744.9,572.8 1745.3,609.9 1745.7,587.6 1746.2,596.9 1746.6,587.6 1747,599.4 1747.4,599.1 1747.8,604.7 1748.3,605.8 1748.7,556.5 1749.1,586.4 1749.5,593.3 1749.9,590.7 1750.4,572.6 1750.8,588.2 1751.2,591.0 1751.6,564.1 1752,581.2 1752.4,604.3 1752.9,583.0 1753.3,591.3 1753.7,594.0 1754.1,601.4 1754.5,604.9 1755,609.8 1755.4,596.5 1755.8,597.9 1756.2,593.3 1756.6,598.4 1757,594.0 1757.5,606.8 1757.9,606.3 1758.3,576.4 1758.7,563.6 1759.1,602.8 1759.6,589.1 1760,574.5 1760.4,610.8 1760.8,618.9 1761.2,580.8 1761.7,583.7 1762.1,587.7 1762.5,586.1 1762.9,596.0 1763.3,581.6 1763.7,597.7 1764.2,592.3 1764.6,613.4 1765,596.9 1765.4,611.4 1765.8,620.4 1766.3,606.4 1766.7,608.4 1767.1,592.1 1767.5,599.5 1767.9,632.5 1768.3,619.5 1768.8,600.4 1769.2,594.2 1769.6,597.9 1770,616.0 1770.4,570.8 1770.9,604.2 1771.3,581.7 1771.7,621.5 1772.1,580.4 1772.5,614.4 1772.9,597.2 1773.4,601.8 1773.8,625.6 1774.2,601.8 1774.6,612.0 1775,607.9 1775.5,585.7 1775.9,602.1 1776.3,617.0 1776.7,608.1 1777.1,606.1 1777.6,593.1 1778,626.1 1778.4,595.8 1778.8,630.0 1779.2,607.0 1779.6,614.6 1780.1,584.2 1780.5,606.4 1780.9,591.3 1781.3,606.4 1781.7,622.9 1782.2,610.8 1782.6,609.5 1783,620.1 1783.4,589.0 1783.8,608.1 1784.2,598.0 1784.7,622.9 1785.1,597.0 1785.5,630.8 1785.9,637.1 1786.3,577.3 1786.8,605.9 1787.2,585.4 1787.6,626.5 1788,596.2 1788.4,618.1 1788.9,613.8 1789.3,595.9 1789.7,587.6 1790.1,626.0 1790.5,601.3 1790.9,614.1 1791.4,631.0 1791.8,610.2 1792.2,606.4 1792.6,596.2 1793,617.9 1793.5,599.5 1793.9,587.2 1794.3,603.3 1794.7,602.9 1795.1,588.6 1795.5,608.8 1796,624.3 1796.4,621.0 1796.8,642.2 1797.2,629.5 1797.6,617.1 1798.1,584.2 1798.5,617.1 1798.9,631.7 1799.3,610.4 1799.7,635.2 1800.1,601.4 1800.6,618.8 1801,627.3 1801.4,640.0 1801.8,614.9 1802.2,644.3 1802.7,610.9 1803.1,590.2 1803.5,614.9 1803.9,636.7 1804.3,611.9 1804.8,641.0 1805.2,614.3 1805.6,645.1 1806,585.5 1806.4,651.3 1806.8,588.2 1807.3,617.4 1807.7,601.1 1808.1,623.3 1808.5,615.7 1808.9,614.7 1809.4,628.6 1809.8,633.6 1810.2,614.9 1810.6,638.0 1811,594.7 1811.4,604.7 1811.9,600.5 1812.3,627.7 1812.7,634.3 1813.1,614.8 1813.5,611.9 1814,603.9 1814.4,631.6 1814.8,638.6 1815.2,613.9 1815.6,619.6 1816.1,616.5 1816.5,622.3 1816.9,629.6 1817.3,590.5 1817.7,615.4 1818.1,635.4 1818.6,610.3 1819,642.5 1819.4,644.9 1819.8,610.5 1820.2,612.9 1820.7,644.1 1821.1,600.9 1821.5,609.7 1821.9,601.5 1822.3,626.0 1822.7,631.0 1823.2,633.1 1823.6,630.3 1824,605.8 1824.4,643.8 1824.8,625.9 1825.3,621.1 1825.7,652.3 1826.1,629.1 1826.5,632.6 1826.9,640.0 1827.3,656.5 1827.8,627.8 1828.2,638.3 1828.6,594.1 1829,614.2 1829.4,656.5 1829.9,656.5 1830.3,626.8 1830.7,616.1 1831.1,609.3 1831.5,611.9 1832,621.2 1832.4,604.5 1832.8,628.4 1833.2,627.7 1833.6,612.2 1834,611.4 1834.5,613.4 1834.9,623.6 1835.3,627.7 1835.7,639.5 1836.1,605.6 1836.6,626.3 1837,632.1 1837.4,636.4 1837.8,644.4 1838.2,626.1 1838.6,650.4 1839.1,656.5 1839.5,639.1 1839.9,655.6 1840.3,647.3 1840.7,639.8 1841.2,630.3 1841.6,637.4 1842,656.5 1842.4,635.0 1842.8,622.8 1843.3,627.0 1843.7,645.8 1844.1,625.3 1844.5,648.1 1844.9,645.6 1845.3,638.4 1845.8,656.5 1846.2,616.3 1846.6,627.4 1847,633.0 1847.4,641.4 1847.9,616.1 1848.3,627.5 1848.7,654.8 1849.1,630.1 1849.5,649.4 1849.9,632.6 1850.4,625.1 1850.8,643.6 1851.2,655.2 1851.6,635.5 1852,617.2 1852.5,625.0 1852.9,629.8 1853.3,632.5 1853.7,622.7 1854.1,646.4 1854.5,621.1 1855,650.8 1855.4,621.2 1855.8,622.5 1856.2,653.1 1856.6,647.1 1857.1,631.8 1857.5,628.1 1857.9,633.6 1858.3,637.6 1858.7,640.6 1859.2,652.2 1859.6,625.1 1860,637.2 1860.4,638.1 1860.8,617.4 1861.2,654.2 1861.7,656.5 1862.1,637.2 1862.5,611.8" fill="none" stroke="#000" stroke-width="1.1" stroke-linejoin="miter" stroke-miterlimit="2" clip-path="url(#cr)"/>
<polyline points="1026,624.2 1026.4,654.8 1026.8,651.6 1027.3,611.5 1027.7,616.3 1028.1,611.0 1028.5,636.2 1028.9,621.7 1029.3,640.2 1029.8,580.2 1030.2,656.5 1030.6,620.5 1031,638.3 1031.4,619.4 1031.9,613.7 1032.3,633.0 1032.7,641.2 1033.1,617.5 1033.5,618.6 1034,637.7 1034.4,601.9 1034.8,587.1 1035.2,630.7 1035.6,606.2 1036,577.5 1036.5,602.7 1036.9,610.5 1037.3,593.9 1037.7,587.0 1038.1,621.6 1038.6,641.1 1039,615.3 1039.4,603.6 1039.8,629.0 1040.2,636.4 1040.6,613.2 1041.1,632.1 1041.5,643.2 1041.9,614.9 1042.3,601.2 1042.7,627.1 1043.2,624.7 1043.6,643.5 1044,590.1 1044.4,603.9 1044.8,599.8 1045.2,579.8 1045.7,620.9 1046.1,629.7 1046.5,601.5 1046.9,648.2 1047.3,635.5 1047.8,631.1 1048.2,625.9 1048.6,637.8 1049,587.6 1049.4,629.9 1049.9,629.5 1050.3,577.8 1050.7,623.5 1051.1,610.3 1051.5,632.4 1051.9,605.9 1052.4,614.8 1052.8,622.3 1053.2,596.0 1053.6,627.3 1054,612.1 1054.5,624.6 1054.9,602.8 1055.3,636.6 1055.7,626.2 1056.1,609.5 1056.5,626.3 1057,639.1 1057.4,650.0 1057.8,579.5 1058.2,630.4 1058.6,621.5 1059.1,609.7 1059.5,590.6 1059.9,637.0 1060.3,585.0 1060.7,622.2 1061.2,637.0 1061.6,577.5 1062,603.7 1062.4,583.1 1062.8,614.3 1063.2,639.6 1063.7,649.5 1064.1,573.0 1064.5,596.8 1064.9,622.1 1065.3,639.2 1065.8,615.9 1066.2,592.5 1066.6,612.8 1067,606.4 1067.4,602.4 1067.8,591.8 1068.3,613.4 1068.7,611.6 1069.1,603.5 1069.5,600.7 1069.9,580.0 1070.4,595.1 1070.8,627.3 1071.2,600.2 1071.6,576.1 1072,628.6 1072.4,613.0 1072.9,642.5 1073.3,603.6 1073.7,593.4 1074.1,574.6 1074.5,626.2 1075,649.0 1075.4,585.6 1075.8,588.5 1076.2,611.2 1076.6,584.6 1077.1,594.6 1077.5,592.9 1077.9,602.5 1078.3,618.6 1078.7,598.7 1079.1,614.6 1079.6,590.1 1080,603.2 1080.4,558.6 1080.8,570.7 1081.2,610.6 1081.7,585.5 1082.1,606.0 1082.5,604.9 1082.9,618.4 1083.3,609.0 1083.7,612.2 1084.2,592.0 1084.6,581.4 1085,580.5 1085.4,584.4 1085.8,573.0 1086.3,582.8 1086.7,590.3 1087.1,595.8 1087.5,585.3 1087.9,557.9 1088.4,589.2 1088.8,593.9 1089.2,608.2 1089.6,599.2 1090,578.1 1090.4,576.4 1090.9,622.1 1091.3,600.6 1091.7,618.2 1092.1,622.7 1092.5,573.2 1093,592.8 1093.4,593.6 1093.8,594.9 1094.2,594.2 1094.6,588.2 1095,587.4 1095.5,559.5 1095.9,581.1 1096.3,571.2 1096.7,585.1 1097.1,575.0 1097.6,592.3 1098,595.1 1098.4,586.4 1098.8,586.2 1099.2,582.2 1099.6,573.1 1100.1,577.2 1100.5,571.5 1100.9,585.3 1101.3,578.9 1101.7,587.5 1102.2,556.7 1102.6,591.6 1103,565.0 1103.4,565.1 1103.8,573.1 1104.3,567.0 1104.7,580.0 1105.1,566.0 1105.5,557.8 1105.9,561.0 1106.3,594.3 1106.8,574.1 1107.2,554.8 1107.6,572.7 1108,547.9 1108.4,599.5 1108.9,547.7 1109.3,578.3 1109.7,578.9 1110.1,547.7 1110.5,574.3 1110.9,584.6 1111.4,576.0 1111.8,572.4 1112.2,582.5 1112.6,570.0 1113,572.2 1113.5,564.7 1113.9,575.9 1114.3,551.4 1114.7,577.4 1115.1,557.2 1115.6,547.9 1116,569.6 1116.4,589.3 1116.8,577.8 1117.2,554.9 1117.6,572.9 1118.1,555.0 1118.5,559.6 1118.9,562.3 1119.3,525.5 1119.7,563.0 1120.2,544.1 1120.6,548.7 1121,536.6 1121.4,535.5 1121.8,543.7 1122.2,569.9 1122.7,582.0 1123.1,556.2 1123.5,572.5 1123.9,551.7 1124.3,526.5 1124.8,557.0 1125.2,561.0 1125.6,547.4 1126,557.9 1126.4,561.5 1126.8,539.6 1127.3,530.0 1127.7,548.3 1128.1,548.0 1128.5,545.4 1128.9,564.9 1129.4,575.5 1129.8,543.1 1130.2,559.3 1130.6,562.4 1131,558.5 1131.5,563.1 1131.9,541.2 1132.3,557.5 1132.7,576.2 1133.1,557.6 1133.5,535.9 1134,553.7 1134.4,563.0 1134.8,549.2 1135.2,534.9 1135.6,565.8 1136.1,523.7 1136.5,549.4 1136.9,541.2 1137.3,523.2 1137.7,558.6 1138.1,545.2 1138.6,522.2 1139,548.0 1139.4,532.2 1139.8,509.8 1140.2,527.4 1140.7,541.1 1141.1,546.2 1141.5,538.7 1141.9,536.4 1142.3,542.3 1142.8,531.7 1143.2,551.9 1143.6,536.1 1144,537.8 1144.4,541.0 1144.8,516.7 1145.3,521.4 1145.7,554.3 1146.1,536.0 1146.5,526.3 1146.9,535.2 1147.4,522.4 1147.8,533.3 1148.2,518.7 1148.6,532.3 1149,504.1 1149.4,547.1 1149.9,519.1 1150.3,502.6 1150.7,522.4 1151.1,519.7 1151.5,527.1 1152,507.2 1152.4,529.8 1152.8,577.7 1153.2,503.7 1153.6,527.5 1154,517.3 1154.5,524.3 1154.9,493.8 1155.3,503.2 1155.7,526.9 1156.1,519.0 1156.6,543.7 1157,508.0 1157.4,520.7 1157.8,561.5 1158.2,505.6 1158.7,503.0 1159.1,515.6 1159.5,515.0 1159.9,527.9 1160.3,516.7 1160.7,502.8 1161.2,516.9 1161.6,553.2 1162,532.0 1162.4,470.2 1162.8,509.7 1163.3,498.1 1163.7,520.3 1164.1,507.7 1164.5,539.2 1164.9,523.5 1165.3,522.4 1165.8,511.3 1166.2,507.3 1166.6,512.6 1167,526.7 1167.4,514.6 1167.9,500.7 1168.3,525.0 1168.7,508.0 1169.1,503.4 1169.5,492.0 1169.9,495.0 1170.4,493.4 1170.8,460.0 1171.2,517.7 1171.6,510.3 1172,497.9 1172.5,516.7 1172.9,506.9 1173.3,505.4 1173.7,461.3 1174.1,495.2 1174.6,506.5 1175,522.5 1175.4,525.6 1175.8,518.8 1176.2,478.5 1176.6,462.1 1177.1,504.2 1177.5,495.3 1177.9,509.3 1178.3,492.0 1178.7,496.9 1179.2,469.8 1179.6,499.4 1180,485.2 1180.4,497.0 1180.8,498.2 1181.2,488.8 1181.7,495.0 1182.1,489.4 1182.5,500.9 1182.9,496.4 1183.3,479.7 1183.8,478.6 1184.2,514.3 1184.6,485.2 1185,501.7 1185.4,491.9 1185.9,476.5 1186.3,473.2 1186.7,486.2 1187.1,487.9 1187.5,493.0 1187.9,463.2 1188.4,473.2 1188.8,480.5 1189.2,506.5 1189.6,444.1 1190,487.4 1190.5,471.6 1190.9,486.4 1191.3,471.4 1191.7,484.4 1192.1,502.7 1192.5,483.3 1193,484.0 1193.4,482.6 1193.8,464.5 1194.2,484.3 1194.6,472.0 1195.1,462.0 1195.5,473.7 1195.9,470.3 1196.3,485.3 1196.7,472.2 1197.1,464.1 1197.6,494.9 1198,487.1 1198.4,491.0 1198.8,480.1 1199.2,468.2 1199.7,462.8 1200.1,464.5 1200.5,483.5 1200.9,469.8 1201.3,443.9 1201.8,466.3 1202.2,443.9 1202.6,468.6 1203,446.3 1203.4,444.8 1203.8,466.3 1204.3,462.6 1204.7,436.8 1205.1,474.8 1205.5,496.9 1205.9,438.1 1206.4,490.3 1206.8,449.7 1207.2,452.3 1207.6,456.8 1208,435.9 1208.4,479.4 1208.9,465.9 1209.3,445.4 1209.7,452.5 1210.1,432.0 1210.5,450.2 1211,470.3 1211.4,427.1 1211.8,447.1 1212.2,456.0 1212.6,469.9 1213.1,474.3 1213.5,444.5 1213.9,439.4 1214.3,458.0 1214.7,444.3 1215.1,444.6 1215.6,466.5 1216,475.9 1216.4,452.2 1216.8,444.2 1217.2,456.0 1217.7,415.4 1218.1,445.2 1218.5,427.7 1218.9,483.3 1219.3,455.5 1219.7,445.5 1220.2,439.4 1220.6,400.9 1221,453.0 1221.4,467.4 1221.8,428.3 1222.3,450.8 1222.7,450.8 1223.1,413.0 1223.5,453.1 1223.9,459.4 1224.3,440.3 1224.8,434.9 1225.2,448.3 1225.6,409.3 1226,435.6 1226.4,450.8 1226.9,412.3 1227.3,448.6 1227.7,424.6 1228.1,396.5 1228.5,428.5 1229,413.6 1229.4,434.3 1229.8,409.0 1230.2,445.2 1230.6,414.9 1231,432.4 1231.5,416.0 1231.9,419.8 1232.3,444.4 1232.7,427.5 1233.1,416.7 1233.6,401.7 1234,441.3 1234.4,433.5 1234.8,415.2 1235.2,424.1 1235.6,402.1 1236.1,401.7 1236.5,404.2 1236.9,423.3 1237.3,421.7 1237.7,403.5 1238.2,427.8 1238.6,427.9 1239,416.9 1239.4,430.9 1239.8,407.9 1240.3,410.1 1240.7,419.3 1241.1,410.1 1241.5,423.4 1241.9,388.1 1242.3,432.8 1242.8,394.7 1243.2,404.5 1243.6,383.2 1244,416.1 1244.4,426.9 1244.9,422.8 1245.3,418.0 1245.7,376.7 1246.1,389.1 1246.5,393.9 1246.9,385.1 1247.4,419.6 1247.8,402.9 1248.2,398.6 1248.6,406.7 1249,381.3 1249.5,381.3 1249.9,381.1 1250.3,404.0 1250.7,400.7 1251.1,404.0 1251.5,411.9 1252,369.3 1252.4,382.3 1252.8,393.8 1253.2,367.3 1253.6,380.7 1254.1,406.7 1254.5,407.5 1254.9,406.3 1255.3,387.7 1255.7,382.6 1256.2,404.3 1256.6,378.4 1257,390.0 1257.4,406.4 1257.8,376.3 1258.2,371.3 1258.7,381.1 1259.1,390.9 1259.5,388.2 1259.9,381.8 1260.3,388.1 1260.8,349.6 1261.2,361.8 1261.6,379.0 1262,359.1 1262.4,351.2 1262.8,352.8 1263.3,357.1 1263.7,369.4 1264.1,353.8 1264.5,375.2 1264.9,400.2 1265.4,366.9 1265.8,391.3 1266.2,373.2 1266.6,347.5 1267,362.1 1267.5,348.5 1267.9,378.7 1268.3,343.9 1268.7,387.1 1269.1,373.1 1269.5,326.2 1270,375.3 1270.4,388.3 1270.8,345.8 1271.2,376.7 1271.6,326.3 1272.1,362.1 1272.5,327.2 1272.9,364.8 1273.3,323.4 1273.7,307.5 1274.1,361.0 1274.6,394.1 1275,341.7 1275.4,366.5 1275.8,352.9 1276.2,344.3 1276.7,360.4 1277.1,378.2 1277.5,325.6 1277.9,357.3 1278.3,352.6 1278.7,319.9 1279.2,374.0 1279.6,379.3 1280,326.1 1280.4,374.0 1280.8,342.8 1281.3,338.1 1281.7,367.6 1282.1,343.6 1282.5,344.6 1282.9,365.6 1283.4,360.7 1283.8,352.7 1284.2,310.2 1284.6,306.2 1285,354.7 1285.4,316.5 1285.9,335.3 1286.3,312.2 1286.7,327.7 1287.1,306.9 1287.5,359.5 1288,310.1 1288.4,325.8 1288.8,323.8 1289.2,348.7 1289.6,299.6 1290,324.4 1290.5,320.3 1290.9,333.2 1291.3,331.4 1291.7,313.3 1292.1,325.6 1292.6,313.4 1293,328.3 1293.4,316.9 1293.8,305.9 1294.2,316.8 1294.7,323.3 1295.1,357.9 1295.5,305.8 1295.9,319.9 1296.3,340.7 1296.7,273.9 1297.2,279.4 1297.6,288.9 1298,308.2 1298.4,355.2 1298.8,316.1 1299.3,330.6 1299.7,303.1 1300.1,260.3 1300.5,262.3 1300.9,324.1 1301.3,307.6 1301.8,279.0 1302.2,323.7 1302.6,272.9 1303,322.5 1303.4,327.7 1303.9,285.1 1304.3,277.8 1304.7,314.0 1305.1,276.5 1305.5,312.8 1305.9,273.0 1306.4,310.2 1306.8,295.9 1307.2,285.2 1307.6,275.6 1308,296.4 1308.5,255.0 1308.9,285.0 1309.3,282.0 1309.7,301.7 1310.1,264.1 1310.6,319.9 1311,280.5 1311.4,263.9 1311.8,311.4 1312.2,316.0 1312.6,279.8 1313.1,265.5 1313.5,282.1 1313.9,267.8 1314.3,274.3 1314.7,309.5 1315.2,286.3 1315.6,280.8 1316,283.9 1316.4,275.4 1316.8,292.0 1317.2,291.9 1317.7,267.0 1318.1,275.5 1318.5,319.4 1318.9,280.1 1319.3,267.5 1319.8,310.1 1320.2,269.8 1320.6,247.5 1321,281.2 1321.4,249.8 1321.9,256.9 1322.3,272.2 1322.7,262.6 1323.1,249.4 1323.5,252.8 1323.9,251.2 1324.4,284.8 1324.8,247.1 1325.2,249.3 1325.6,299.7 1326,248.1 1326.5,287.4 1326.9,283.3 1327.3,253.7 1327.7,228.1 1328.1,264.1 1328.5,267.7 1329,272.8 1329.4,254.4 1329.8,276.0 1330.2,278.9 1330.6,229.9 1331.1,278.2 1331.5,252.7 1331.9,237.3 1332.3,241.4 1332.7,284.2 1333.1,265.7 1333.6,210.0 1334,246.4 1334.4,241.2 1334.8,239.8 1335.2,232.3 1335.7,212.8 1336.1,258.2 1336.5,221.5 1336.9,232.2 1337.3,226.8 1337.8,223.5 1338.2,252.2 1338.6,244.3 1339,222.4 1339.4,216.2 1339.8,225.0 1340.3,253.0 1340.7,235.4 1341.1,236.9 1341.5,224.9 1341.9,225.5 1342.4,234.4 1342.8,192.2 1343.2,261.0 1343.6,211.9 1344,215.6 1344.4,253.4 1344.9,230.1 1345.3,225.8 1345.7,212.4 1346.1,191.9 1346.5,226.5 1347,246.3 1347.4,203.1 1347.8,248.3 1348.2,197.0 1348.6,204.3 1349.1,228.7 1349.5,217.7 1349.9,231.1 1350.3,201.2 1350.7,194.6 1351.1,176.8 1351.6,189.6 1352,191.5 1352.4,183.6 1352.8,218.4 1353.2,197.8 1353.7,170.0 1354.1,260.8 1354.5,192.2 1354.9,182.8 1355.3,233.3 1355.7,231.1 1356.2,182.8 1356.6,175.5 1357,184.5 1357.4,227.6 1357.8,197.3 1358.3,186.4 1358.7,201.7 1359.1,226.5 1359.5,172.3 1359.9,192.3 1360.3,171.0 1360.8,243.8 1361.2,235.8 1361.6,217.2 1362,194.1 1362.4,209.8 1362.9,151.9 1363.3,200.6 1363.7,166.4 1364.1,166.0 1364.5,178.2 1365,184.9 1365.4,203.4 1365.8,205.4 1366.2,195.6 1366.6,169.8 1367,202.9 1367.5,185.6 1367.9,212.1 1368.3,167.7 1368.7,128.4 1369.1,175.5 1369.6,229.9 1370,194.0 1370.4,179.5 1370.8,201.4 1371.2,192.8 1371.6,191.3 1372.1,170.2 1372.5,181.9 1372.9,183.9 1373.3,165.5 1373.7,154.8 1374.2,180.7 1374.6,197.5 1375,190.1 1375.4,186.2 1375.8,185.8 1376.3,229.1 1376.7,179.4 1377.1,195.3 1377.5,214.1 1377.9,173.2 1378.3,177.0 1378.8,192.9 1379.2,205.9 1379.6,176.2 1380,176.6 1380.4,170.3 1380.9,142.1 1381.3,190.8 1381.7,161.1 1382.1,129.3 1382.5,162.2 1382.9,127.9 1383.4,142.7 1383.8,163.9 1384.2,143.3 1384.6,185.2 1385,130.4 1385.5,166.8 1385.9,172.5 1386.3,191.2 1386.7,179.2 1387.1,163.9 1387.5,160.0 1388,156.5 1388.4,181.5 1388.8,142.5 1389.2,167.2 1389.6,153.4 1390.1,160.0 1390.5,148.6 1390.9,199.6 1391.3,139.0 1391.7,158.0 1392.2,157.9 1392.6,164.5 1393,160.6 1393.4,159.5 1393.8,170.9 1394.2,116.8 1394.7,148.9 1395.1,121.5 1395.5,152.6 1395.9,121.5 1396.3,125.7 1396.8,144.6 1397.2,175.6 1397.6,157.3 1398,150.7 1398.4,174.2 1398.8,122.8 1399.3,97.4 1399.7,133.0 1400.1,135.6 1400.5,167.9 1400.9,187.1 1401.4,111.2 1401.8,193.4 1402.2,173.1 1402.6,156.8 1403,146.0 1403.5,190.3 1403.9,138.7 1404.3,126.2 1404.7,139.0 1405.1,105.6 1405.5,145.3 1406,132.1 1406.4,141.2 1406.8,141.3 1407.2,109.8 1407.6,161.3 1408.1,109.8 1408.5,151.0 1408.9,96.2 1409.3,138.7 1409.7,112.1 1410.1,130.5 1410.6,114.8 1411,80.8 1411.4,103.7 1411.8,129.2 1412.2,141.0 1412.7,94.5 1413.1,79.6 1413.5,106.7 1413.9,120.8 1414.3,111.0 1414.7,106.7 1415.2,142.8 1415.6,144.9 1416,139.5 1416.4,102.1 1416.8,124.0 1417.3,117.6 1417.7,89.9 1418.1,140.5 1418.5,122.5 1418.9,109.4 1419.4,151.0 1419.8,136.2 1420.2,137.8 1420.6,145.0 1421,133.9 1421.4,89.6 1421.9,108.6 1422.3,139.0 1422.7,99.4 1423.1,116.8 1423.5,124.4 1424,147.2 1424.4,143.6 1424.8,134.4 1425.2,109.9 1425.6,134.0 1426,125.0 1426.5,109.3 1426.9,142.7 1427.3,123.2 1427.7,95.0 1428.1,139.6 1428.6,105.4 1429,123.9 1429.4,76.4 1429.8,109.6 1430.2,88.6 1430.7,87.6 1431.1,66.4 1431.5,156.4 1431.9,104.9 1432.3,113.2 1432.7,132.3 1433.2,104.5 1433.6,118.4 1434,76.3 1434.4,110.7 1434.8,96.7 1435.3,116.9 1435.7,109.4 1436.1,74.1 1436.5,63.4 1436.9,81.8 1437.3,120.7 1437.8,113.4 1438.2,112.6 1438.6,58.1 1439,42.8 1439.4,88.8 1439.9,95.0 1440.3,88.7 1440.7,109.9 1441.1,97.8 1441.5,74.8 1441.9,81.4 1442.4,104.1 1442.8,102.2 1443.2,98.7 1443.6,151.0 1444,94.0 1444.5,102.3 1444.9,77.0 1445.3,91.1 1445.7,110.7 1446.1,111.5 1446.6,95.0 1447,107.2 1447.4,99.3 1447.8,55.6 1448.2,33.5 1448.6,149.4 1449.1,116.0 1449.5,95.8 1449.9,57.8 1450.3,68.0 1450.7,127.1 1451.2,33.6 1451.6,88.9 1452,115.6 1452.4,99.1 1452.8,112.8 1453.2,92.7 1453.7,149.4 1454.1,72.2 1454.5,64.5 1454.9,101.2 1455.3,127.1 1455.8,93.5 1456.2,118.3 1456.6,82.6 1457,67.7 1457.4,125.9 1457.8,129.6 1458.3,128.7 1458.7,84.2 1459.1,67.9 1459.5,67.5 1459.9,88.7 1460.4,106.9 1460.8,105.1 1461.2,61.2 1461.6,97.9 1462,93.9 1462.5,95.4 1462.9,92.8 1463.3,88.8 1463.7,106.7 1464.1,96.1 1464.5,98.3 1465,77.6 1465.4,102.1 1465.8,90.4 1466.2,45.4 1466.6,104.0 1467.1,87.2 1467.5,114.0 1467.9,89.5 1468.3,91.0 1468.7,97.9 1469.1,92.9 1469.6,83.1 1470,52.8 1470.4,134.8 1470.8,57.7 1471.2,85.6 1471.7,108.1 1472.1,102.0 1472.5,106.3 1472.9,110.9 1473.3,122.1 1473.8,100.4 1474.2,159.3 1474.6,71.0 1475,99.1 1475.4,85.9 1475.8,81.8 1476.3,100.7 1476.7,127.2 1477.1,78.5 1477.5,78.6 1477.9,111.0 1478.4,107.1 1478.8,139.1 1479.2,118.3 1479.6,100.4 1480,88.0 1480.4,100.4 1480.9,91.8 1481.3,65.1 1481.7,96.2 1482.1,92.3 1482.5,91.2 1483,86.9 1483.4,134.8 1483.8,112.6 1484.2,118.2 1484.6,83.7 1485,74.6 1485.5,91.4 1485.9,103.5 1486.3,90.5 1486.7,94.3 1487.1,120.3 1487.6,105.7 1488,77.1 1488.4,89.9 1488.8,85.0 1489.2,104.1 1489.7,74.1 1490.1,96.5 1490.5,116.4 1490.9,101.8 1491.3,80.9 1491.7,87.9 1492.2,104.8 1492.6,113.2 1493,121.4 1493.4,99.7 1493.8,73.8 1494.3,135.5 1494.7,110.7 1495.1,113.4 1495.5,111.5 1495.9,81.9 1496.3,98.3 1496.8,111.5 1497.2,129.2 1497.6,107.9 1498,37.3 1498.4,101.9 1498.9,115.6 1499.3,137.0 1499.7,124.4 1500.1,164.4 1500.5,141.1 1501,139.8 1501.4,131.2 1501.8,79.9 1502.2,130.0 1502.6,124.9 1503,100.3 1503.5,125.5 1503.9,122.2 1504.3,103.1 1504.7,111.2 1505.1,108.5 1505.6,120.0 1506,106.0 1506.4,127.9 1506.8,73.9 1507.2,110.6 1507.6,80.1 1508.1,107.2 1508.5,129.9 1508.9,119.4 1509.3,117.0 1509.7,121.5 1510.2,155.2 1510.6,96.7 1511,141.2 1511.4,88.9 1511.8,112.5 1512.2,126.9 1512.7,105.1 1513.1,129.0 1513.5,141.1 1513.9,99.4 1514.3,124.5 1514.8,118.5 1515.2,84.8 1515.6,123.9 1516,111.1 1516.4,158.5 1516.9,110.6 1517.3,167.6 1517.7,119.3 1518.1,174.0 1518.5,144.1 1518.9,142.8 1519.4,151.1 1519.8,153.9 1520.2,165.4 1520.6,173.2 1521,128.5 1521.5,109.5 1521.9,79.2 1522.3,129.6 1522.7,155.2 1523.1,147.6 1523.5,142.5 1524,133.1 1524.4,127.5 1524.8,135.9 1525.2,151.1 1525.6,105.1 1526.1,159.8 1526.5,113.2 1526.9,142.0 1527.3,132.4 1527.7,138.8 1528.2,124.9 1528.6,123.3 1529,143.9 1529.4,126.1 1529.8,203.2 1530.2,141.9 1530.7,137.5 1531.1,140.5 1531.5,130.0 1531.9,101.0 1532.3,148.9 1532.8,161.8 1533.2,123.6 1533.6,156.7 1534,131.4 1534.4,157.3 1534.8,166.5 1535.3,169.9 1535.7,169.5 1536.1,145.9 1536.5,180.5 1536.9,152.9 1537.4,170.6 1537.8,178.9 1538.2,158.2 1538.6,138.1 1539,179.2 1539.4,143.2 1539.9,148.7 1540.3,145.0 1540.7,187.0 1541.1,166.4 1541.5,123.0 1542,186.9 1542.4,215.9 1542.8,210.9 1543.2,161.6 1543.6,176.0 1544.1,185.9 1544.5,194.7 1544.9,177.4 1545.3,154.4 1545.7,194.1 1546.1,191.9 1546.6,151.7 1547,172.8 1547.4,186.9 1547.8,181.9 1548.2,193.7 1548.7,200.2 1549.1,195.6 1549.5,182.6 1549.9,157.6 1550.3,199.4 1550.7,216.6 1551.2,229.3 1551.6,188.1 1552,188.9 1552.4,220.5 1552.8,221.1 1553.3,199.0 1553.7,207.5 1554.1,177.6 1554.5,206.3 1554.9,177.8 1555.4,192.7 1555.8,193.9 1556.2,187.6 1556.6,154.3 1557,181.7 1557.4,206.4 1557.9,199.1 1558.3,193.0 1558.7,210.7 1559.1,216.8 1559.5,220.9 1560,187.6 1560.4,205.4 1560.8,198.8 1561.2,188.4 1561.6,176.5 1562,206.0 1562.5,190.9 1562.9,253.6 1563.3,208.3 1563.7,206.5 1564.1,203.7 1564.6,250.9 1565,194.2 1565.4,210.9 1565.8,199.3 1566.2,213.2 1566.6,215.8 1567.1,239.6 1567.5,189.3 1567.9,218.4 1568.3,252.4 1568.7,210.1 1569.2,217.6 1569.6,204.0 1570,169.7 1570.4,221.4 1570.8,248.0 1571.3,215.6 1571.7,188.6 1572.1,232.0 1572.5,229.0 1572.9,248.3 1573.3,247.3 1573.8,224.3 1574.2,238.5 1574.6,195.1 1575,254.4 1575.4,236.6 1575.9,255.4 1576.3,255.7 1576.7,229.4 1577.1,233.0 1577.5,219.2 1577.9,196.2 1578.4,235.7 1578.8,242.1 1579.2,218.2 1579.6,254.8 1580,243.4 1580.5,251.2 1580.9,227.7 1581.3,208.7 1581.7,260.0 1582.1,257.5 1582.6,243.9 1583,238.6 1583.4,242.2 1583.8,245.8 1584.2,239.2 1584.6,210.3 1585.1,266.3 1585.5,222.1 1585.9,245.8 1586.3,247.1 1586.7,259.1 1587.2,223.0 1587.6,279.2 1588,269.2 1588.4,272.2 1588.8,282.8 1589.2,243.1 1589.7,198.1 1590.1,266.8 1590.5,286.8 1590.9,284.6 1591.3,252.2 1591.8,261.7 1592.2,269.9 1592.6,229.9 1593,252.9 1593.4,254.3 1593.8,298.3 1594.3,255.6 1594.7,299.6 1595.1,270.1 1595.5,238.1 1595.9,314.4 1596.4,253.4 1596.8,285.0 1597.2,306.9 1597.6,264.3 1598,251.7 1598.5,296.3 1598.9,278.3 1599.3,254.2 1599.7,257.8 1600.1,271.9 1600.5,298.7 1601,275.4 1601.4,294.3 1601.8,314.2 1602.2,307.6 1602.6,311.6 1603.1,308.4 1603.5,254.9 1603.9,309.8 1604.3,293.5 1604.7,285.6 1605.1,268.1 1605.6,259.3 1606,269.2 1606.4,290.7 1606.8,269.6 1607.2,277.2 1607.7,281.8 1608.1,306.9 1608.5,289.5 1608.9,293.1 1609.3,321.8 1609.8,291.4 1610.2,309.6 1610.6,279.0 1611,306.0 1611.4,302.8 1611.8,304.7 1612.3,293.4 1612.7,283.6 1613.1,298.1 1613.5,295.7 1613.9,324.7 1614.4,323.1 1614.8,284.3 1615.2,319.4 1615.6,299.5 1616,317.8 1616.4,301.0 1616.9,283.3 1617.3,330.6 1617.7,320.8 1618.1,290.3 1618.5,278.7 1619,304.8 1619.4,293.6 1619.8,309.6 1620.2,328.6 1620.6,345.1 1621,312.1 1621.5,345.0 1621.9,341.8 1622.3,313.0 1622.7,291.0 1623.1,338.4 1623.6,334.7 1624,367.6 1624.4,351.3 1624.8,340.2 1625.2,357.6 1625.7,308.1 1626.1,331.7 1626.5,324.0 1626.9,361.7 1627.3,340.9 1627.7,275.3 1628.2,357.2 1628.6,316.4 1629,348.0 1629.4,325.8 1629.8,339.8 1630.3,347.8 1630.7,340.5 1631.1,320.4 1631.5,364.0 1631.9,346.6 1632.3,339.9 1632.8,353.8 1633.2,332.1 1633.6,376.7 1634,347.4 1634.4,350.8 1634.9,351.2 1635.3,329.3 1635.7,325.3 1636.1,351.2 1636.5,354.5 1637,373.1 1637.4,357.8 1637.8,330.9 1638.2,360.7 1638.6,366.9 1639,370.8 1639.5,359.6 1639.9,332.6 1640.3,376.0 1640.7,342.9 1641.1,367.0 1641.6,329.5 1642,372.0 1642.4,345.2 1642.8,379.2 1643.2,392.1 1643.6,382.3 1644.1,341.5 1644.5,346.3 1644.9,348.4 1645.3,376.4 1645.7,371.5 1646.2,369.0 1646.6,372.4 1647,378.0 1647.4,380.0 1647.8,399.1 1648.2,369.1 1648.7,374.5 1649.1,339.0 1649.5,349.2 1649.9,361.0 1650.3,353.2 1650.8,378.6 1651.2,393.8 1651.6,368.7 1652,368.6 1652.4,368.9 1652.9,380.9 1653.3,369.9 1653.7,387.6 1654.1,386.2 1654.5,387.7 1654.9,395.8 1655.4,383.8 1655.8,386.5 1656.2,415.4 1656.6,384.8 1657,400.2 1657.5,388.1 1657.9,380.0 1658.3,380.8 1658.7,375.3 1659.1,390.4 1659.5,380.6 1660,384.5 1660.4,413.6 1660.8,391.1 1661.2,413.8 1661.6,399.5 1662.1,410.5 1662.5,386.0 1662.9,399.8 1663.3,443.2 1663.7,413.0 1664.2,416.8 1664.6,404.4 1665,415.8 1665.4,382.1 1665.8,388.2 1666.2,410.8 1666.7,418.2 1667.1,398.1 1667.5,402.7 1667.9,400.5 1668.3,404.2 1668.8,387.8 1669.2,384.7 1669.6,408.3 1670,381.1 1670.4,394.7 1670.8,400.9 1671.3,395.1 1671.7,417.6 1672.1,406.8 1672.5,413.7 1672.9,398.9 1673.4,404.2 1673.8,426.0 1674.2,424.2 1674.6,411.1 1675,425.8 1675.4,423.6 1675.9,423.9 1676.3,448.6 1676.7,416.1 1677.1,430.5 1677.5,431.3 1678,421.2 1678.4,406.5 1678.8,438.1 1679.2,431.7 1679.6,429.0 1680.1,429.3 1680.5,430.0 1680.9,415.6 1681.3,436.0 1681.7,402.2 1682.1,432.3 1682.6,408.8 1683,428.4 1683.4,446.8 1683.8,431.5 1684.2,428.6 1684.7,445.7 1685.1,433.6 1685.5,432.1 1685.9,433.2 1686.3,465.1 1686.7,452.0 1687.2,449.7 1687.6,423.3 1688,453.5 1688.4,423.1 1688.8,452.8 1689.3,427.6 1689.7,478.2 1690.1,420.0 1690.5,467.8 1690.9,461.8 1691.4,420.9 1691.8,446.5 1692.2,474.5 1692.6,470.2 1693,425.9 1693.4,445.1 1693.9,435.3 1694.3,438.5 1694.7,445.5 1695.1,486.1 1695.5,459.5 1696,454.5 1696.4,453.5 1696.8,470.3 1697.2,471.5 1697.6,446.5 1698,485.4 1698.5,445.5 1698.9,459.1 1699.3,471.4 1699.7,492.2 1700.1,460.3 1700.6,471.1 1701,488.0 1701.4,478.0 1701.8,486.7 1702.2,486.1 1702.6,474.5 1703.1,481.1 1703.5,486.4 1703.9,472.3 1704.3,498.6 1704.7,443.0 1705.2,460.5 1705.6,498.4 1706,483.2 1706.4,467.2 1706.8,484.0 1707.3,495.8 1707.7,470.8 1708.1,492.3 1708.5,479.1 1708.9,480.0 1709.3,481.5 1709.8,500.6 1710.2,466.6 1710.6,479.1 1711,495.8 1711.4,467.4 1711.9,462.5 1712.3,496.6 1712.7,488.5 1713.1,487.0 1713.5,492.2 1713.9,475.7 1714.4,536.4 1714.8,477.0 1715.2,486.2 1715.6,471.7 1716,488.0 1716.5,518.5 1716.9,496.1 1717.3,505.6 1717.7,489.8 1718.1,525.7 1718.6,501.2 1719,480.3 1719.4,511.9 1719.8,495.2 1720.2,510.8 1720.6,504.3 1721.1,506.9 1721.5,505.7 1721.9,490.5 1722.3,482.2 1722.7,520.5 1723.2,504.3 1723.6,511.4 1724,500.7 1724.4,477.8 1724.8,489.8 1725.2,530.9 1725.7,498.6 1726.1,505.4 1726.5,489.7 1726.9,504.5 1727.3,507.6 1727.8,510.5 1728.2,513.4 1728.6,505.7 1729,507.2 1729.4,516.2 1729.8,521.9 1730.3,515.6 1730.7,544.4 1731.1,522.1 1731.5,522.1 1731.9,510.5 1732.4,536.2 1732.8,506.3 1733.2,498.1 1733.6,508.3 1734,532.6 1734.5,507.1 1734.9,543.9 1735.3,524.9 1735.7,503.4 1736.1,523.1 1736.5,553.5 1737,515.0 1737.4,509.0 1737.8,536.5 1738.2,548.8 1738.6,545.1 1739.1,525.8 1739.5,534.0 1739.9,536.6 1740.3,549.7 1740.7,564.6 1741.1,532.0 1741.6,553.2 1742,529.7 1742.4,543.9 1742.8,522.2 1743.2,525.2 1743.7,543.0 1744.1,524.4 1744.5,551.0 1744.9,530.6 1745.3,540.3 1745.7,538.5 1746.2,535.4 1746.6,542.7 1747,557.0 1747.4,587.0 1747.8,525.2 1748.3,547.3 1748.7,540.9 1749.1,530.7 1749.5,548.6 1749.9,532.3 1750.4,544.4 1750.8,564.0 1751.2,517.4 1751.6,550.6 1752,554.0 1752.4,534.3 1752.9,556.1 1753.3,554.1 1753.7,544.6 1754.1,567.5 1754.5,531.8 1755,560.3 1755.4,548.2 1755.8,536.9 1756.2,550.0 1756.6,548.0 1757,565.2 1757.5,532.6 1757.9,551.7 1758.3,548.4 1758.7,577.9 1759.1,539.9 1759.6,571.4 1760,531.7 1760.4,562.2 1760.8,555.8 1761.2,563.5 1761.7,548.6 1762.1,531.3 1762.5,537.5 1762.9,578.6 1763.3,563.4 1763.7,548.6 1764.2,574.0 1764.6,551.1 1765,551.7 1765.4,545.4 1765.8,579.7 1766.3,591.2 1766.7,550.3 1767.1,568.4 1767.5,578.6 1767.9,595.0 1768.3,531.8 1768.8,568.0 1769.2,575.6 1769.6,546.1 1770,573.1 1770.4,570.5 1770.9,578.3 1771.3,560.4 1771.7,574.9 1772.1,560.9 1772.5,578.4 1772.9,572.5 1773.4,565.4 1773.8,551.3 1774.2,594.6 1774.6,587.5 1775,584.7 1775.5,563.5 1775.9,568.3 1776.3,597.0 1776.7,584.4 1777.1,562.6 1777.6,575.6 1778,577.3 1778.4,573.0 1778.8,563.0 1779.2,594.0 1779.6,585.2 1780.1,574.7 1780.5,556.0 1780.9,570.2 1781.3,578.7 1781.7,591.2 1782.2,574.4 1782.6,595.3 1783,582.4 1783.4,570.5 1783.8,542.6 1784.2,565.4 1784.7,561.5 1785.1,580.4 1785.5,587.5 1785.9,602.5 1786.3,583.6 1786.8,568.2 1787.2,617.0 1787.6,589.3 1788,581.8 1788.4,582.2 1788.9,567.6 1789.3,595.4 1789.7,592.2 1790.1,609.2 1790.5,603.0 1790.9,600.2 1791.4,605.9 1791.8,585.2 1792.2,583.4 1792.6,589.2 1793,573.3 1793.5,588.7 1793.9,586.6 1794.3,600.6 1794.7,591.7 1795.1,566.3 1795.5,593.1 1796,612.4 1796.4,568.5 1796.8,583.6 1797.2,594.5 1797.6,576.6 1798.1,587.6 1798.5,596.2 1798.9,577.9 1799.3,600.2 1799.7,602.2 1800.1,579.8 1800.6,597.8 1801,612.4 1801.4,595.8 1801.8,604.4 1802.2,607.6 1802.7,596.1 1803.1,613.0 1803.5,605.3 1803.9,587.1 1804.3,607.9 1804.8,612.9 1805.2,612.4 1805.6,593.3 1806,608.5 1806.4,621.2 1806.8,606.2 1807.3,619.4 1807.7,621.3 1808.1,603.7 1808.5,613.4 1808.9,601.0 1809.4,619.6 1809.8,604.4 1810.2,598.6 1810.6,606.0 1811,605.7 1811.4,612.1 1811.9,613.6 1812.3,592.1 1812.7,599.4 1813.1,613.2 1813.5,615.2 1814,610.2 1814.4,644.6 1814.8,624.7 1815.2,609.1 1815.6,620.2 1816.1,628.7 1816.5,616.1 1816.9,588.3 1817.3,613.2 1817.7,612.9 1818.1,640.9 1818.6,588.5 1819,633.8 1819.4,611.5 1819.8,626.2 1820.2,610.3 1820.7,616.9 1821.1,629.9 1821.5,616.3 1821.9,629.5 1822.3,614.8 1822.7,610.7 1823.2,613.6 1823.6,610.1 1824,615.5 1824.4,635.4 1824.8,602.2 1825.3,596.1 1825.7,618.0 1826.1,640.8 1826.5,632.7 1826.9,636.6 1827.3,635.9 1827.8,610.2 1828.2,621.6 1828.6,585.4 1829,612.6 1829.4,628.9 1829.9,600.8 1830.3,594.4 1830.7,604.7 1831.1,624.9 1831.5,637.7 1832,656.5 1832.4,641.7 1832.8,603.3 1833.2,593.1 1833.6,625.7 1834,637.9 1834.5,603.1 1834.9,617.8 1835.3,619.0 1835.7,625.6 1836.1,623.1 1836.6,632.4 1837,639.8 1837.4,627.2 1837.8,636.3 1838.2,652.8 1838.6,613.7 1839.1,613.6 1839.5,634.2 1839.9,651.9 1840.3,630.2 1840.7,642.5 1841.2,624.5 1841.6,640.7 1842,620.8 1842.4,638.0 1842.8,634.6 1843.3,634.8 1843.7,647.8 1844.1,644.0 1844.5,622.6 1844.9,642.1 1845.3,608.8 1845.8,643.9 1846.2,656.5 1846.6,638.4 1847,638.4 1847.4,632.8 1847.9,643.0 1848.3,626.6 1848.7,641.4 1849.1,629.4 1849.5,627.6 1849.9,634.9 1850.4,632.7 1850.8,611.2 1851.2,656.5 1851.6,635.9 1852,612.3 1852.5,648.3 1852.9,634.2 1853.3,637.4 1853.7,644.0 1854.1,623.5 1854.5,597.2 1855,634.1 1855.4,638.6 1855.8,648.6 1856.2,626.0 1856.6,632.5 1857.1,641.2 1857.5,632.1 1857.9,633.1 1858.3,639.7 1858.7,623.7 1859.2,656.5 1859.6,624.9 1860,637.4 1860.4,632.8 1860.8,628.0 1861.2,644.2 1861.7,650.4 1862.1,656.2 1862.5,645.1" fill="none" stroke="#f00" stroke-width="1.1" stroke-linejoin="miter" stroke-miterlimit="2" clip-path="url(#cr)"/>
<line x1="1025.9" y1="15" x2="1025.9" y2="667.7" stroke="#000" stroke-width="2.4"/>
<line x1="1024.7" y1="656.6" x2="1864" y2="656.6" stroke="#000" stroke-width="2.5"/>
<line x1="1025.90" y1="656" x2="1025.90" y2="668.0" stroke="#000" stroke-width="2.4"/>
<line x1="1067.74" y1="656" x2="1067.74" y2="662.5" stroke="#000" stroke-width="2.4"/>
<line x1="1109.58" y1="656" x2="1109.58" y2="662.5" stroke="#000" stroke-width="2.4"/>
<line x1="1151.42" y1="656" x2="1151.42" y2="662.5" stroke="#000" stroke-width="2.4"/>
<line x1="1193.26" y1="656" x2="1193.26" y2="662.5" stroke="#000" stroke-width="2.4"/>
<line x1="1235.10" y1="656" x2="1235.10" y2="668.0" stroke="#000" stroke-width="2.4"/>
<line x1="1276.94" y1="656" x2="1276.94" y2="662.5" stroke="#000" stroke-width="2.4"/>
<line x1="1318.78" y1="656" x2="1318.78" y2="662.5" stroke="#000" stroke-width="2.4"/>
<line x1="1360.62" y1="656" x2="1360.62" y2="662.5" stroke="#000" stroke-width="2.4"/>
<line x1="1402.46" y1="656" x2="1402.46" y2="662.5" stroke="#000" stroke-width="2.4"/>
<line x1="1444.30" y1="656" x2="1444.30" y2="668.0" stroke="#000" stroke-width="2.4"/>
<line x1="1486.14" y1="656" x2="1486.14" y2="662.5" stroke="#000" stroke-width="2.4"/>
<line x1="1527.98" y1="656" x2="1527.98" y2="662.5" stroke="#000" stroke-width="2.4"/>
<line x1="1569.82" y1="656" x2="1569.82" y2="662.5" stroke="#000" stroke-width="2.4"/>
<line x1="1611.66" y1="656" x2="1611.66" y2="662.5" stroke="#000" stroke-width="2.4"/>
<line x1="1653.50" y1="656" x2="1653.50" y2="668.0" stroke="#000" stroke-width="2.4"/>
<line x1="1695.34" y1="656" x2="1695.34" y2="662.5" stroke="#000" stroke-width="2.4"/>
<line x1="1737.18" y1="656" x2="1737.18" y2="662.5" stroke="#000" stroke-width="2.4"/>
<line x1="1779.02" y1="656" x2="1779.02" y2="662.5" stroke="#000" stroke-width="2.4"/>
<line x1="1820.86" y1="656" x2="1820.86" y2="662.5" stroke="#000" stroke-width="2.4"/>
<line x1="1862.70" y1="656" x2="1862.70" y2="668.0" stroke="#000" stroke-width="2.4"/>
<text x="984" y="56.9" font-size="49" transform="translate(984,0) scale(1.06,1) translate(-984,0)">B</text>
<text x="1342" y="23.3" font-size="33.5" textLength="213" lengthAdjust="spacingAndGlyphs">Al<tspan dy="7.6">2</tspan><tspan dy="-7.6">O</tspan><tspan dy="7.6">3</tspan><tspan dy="-7.6"> substrate</tspan></text>
<text x="0" y="0" font-size="48.1" transform="translate(1004.3,430.5) rotate(-90)">Intensity (a.u.)</text>
<text x="1323.5" y="746.7" font-size="49.5">Energy (eV)</text>
<g font-size="32.5" text-anchor="middle">
<text x="1026.9" y="700.5">1.90</text><text x="1236.1" y="700.5">1.95</text><text x="1445.3" y="700.5">2.00</text>
<text x="1654.5" y="700.5">2.05</text><text x="1863.7" y="700.5">2.10</text>
</g>
<line x1="1629" y1="187.3" x2="1697" y2="187.3" stroke="#000" stroke-width="1.2"/>
<line x1="1629" y1="240.2" x2="1697" y2="240.2" stroke="#f00" stroke-width="1.2"/>
<text x="1704.5" y="198" font-size="32.5">at 500<tspan dy="-13.5">o</tspan><tspan dy="13.5">C</tspan></text>
<text x="1704.5" y="250.8" font-size="32.5">at 1000<tspan dy="-13.5">o</tspan><tspan dy="13.5">C</tspan></text>
</g>
</svg>
</body></html>
